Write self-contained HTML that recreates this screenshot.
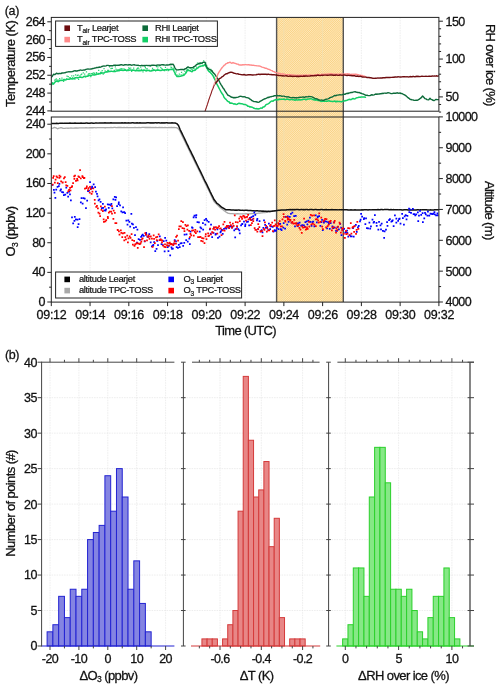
<!DOCTYPE html>
<html lang="en"><head><meta charset="utf-8"><title>Figure</title><style>html,body{margin:0;padding:0;background:#fff}svg{display:block}</style></head><body>
<svg width="500" height="688" viewBox="0 0 500 688" font-family='"Liberation Sans", Arial, Helvetica, sans-serif'>
<defs><pattern id="hatch" width="1.5" height="1.5" patternUnits="userSpaceOnUse" patternTransform="rotate(45)"><rect width="1.5" height="1.5" fill="#fee8bc"/><rect width="0.75" height="1.5" fill="#fad283"/></pattern><clipPath id="c1"><rect x="51.3" y="17.4" width="387.6" height="93.8"/></clipPath><clipPath id="c2"><rect x="51.3" y="117" width="387.6" height="185.1"/></clipPath></defs>
<rect width="500" height="688" fill="#fff"/>
<line x1="90.06" y1="17.4" x2="90.06" y2="111.2" stroke="#e0e0e0" stroke-width="0.6" stroke-dasharray="1.5 1"/>
<line x1="90.06" y1="117" x2="90.06" y2="302.1" stroke="#e0e0e0" stroke-width="0.6" stroke-dasharray="1.5 1"/>
<line x1="128.82" y1="17.4" x2="128.82" y2="111.2" stroke="#e0e0e0" stroke-width="0.6" stroke-dasharray="1.5 1"/>
<line x1="128.82" y1="117" x2="128.82" y2="302.1" stroke="#e0e0e0" stroke-width="0.6" stroke-dasharray="1.5 1"/>
<line x1="167.58" y1="17.4" x2="167.58" y2="111.2" stroke="#e0e0e0" stroke-width="0.6" stroke-dasharray="1.5 1"/>
<line x1="167.58" y1="117" x2="167.58" y2="302.1" stroke="#e0e0e0" stroke-width="0.6" stroke-dasharray="1.5 1"/>
<line x1="206.34" y1="17.4" x2="206.34" y2="111.2" stroke="#e0e0e0" stroke-width="0.6" stroke-dasharray="1.5 1"/>
<line x1="206.34" y1="117" x2="206.34" y2="302.1" stroke="#e0e0e0" stroke-width="0.6" stroke-dasharray="1.5 1"/>
<line x1="245.1" y1="17.4" x2="245.1" y2="111.2" stroke="#e0e0e0" stroke-width="0.6" stroke-dasharray="1.5 1"/>
<line x1="245.1" y1="117" x2="245.1" y2="302.1" stroke="#e0e0e0" stroke-width="0.6" stroke-dasharray="1.5 1"/>
<line x1="283.86" y1="17.4" x2="283.86" y2="111.2" stroke="#e0e0e0" stroke-width="0.6" stroke-dasharray="1.5 1"/>
<line x1="283.86" y1="117" x2="283.86" y2="302.1" stroke="#e0e0e0" stroke-width="0.6" stroke-dasharray="1.5 1"/>
<line x1="322.62" y1="17.4" x2="322.62" y2="111.2" stroke="#e0e0e0" stroke-width="0.6" stroke-dasharray="1.5 1"/>
<line x1="322.62" y1="117" x2="322.62" y2="302.1" stroke="#e0e0e0" stroke-width="0.6" stroke-dasharray="1.5 1"/>
<line x1="361.38" y1="17.4" x2="361.38" y2="111.2" stroke="#e0e0e0" stroke-width="0.6" stroke-dasharray="1.5 1"/>
<line x1="361.38" y1="117" x2="361.38" y2="302.1" stroke="#e0e0e0" stroke-width="0.6" stroke-dasharray="1.5 1"/>
<line x1="400.14" y1="17.4" x2="400.14" y2="111.2" stroke="#e0e0e0" stroke-width="0.6" stroke-dasharray="1.5 1"/>
<line x1="400.14" y1="117" x2="400.14" y2="302.1" stroke="#e0e0e0" stroke-width="0.6" stroke-dasharray="1.5 1"/>
<rect x="276.6" y="17.4" width="66.7" height="284.7" fill="url(#hatch)"/>
<line x1="283.86" y1="17.4" x2="283.86" y2="302.1" stroke="#f3dfb0" stroke-width="0.8" />
<line x1="322.62" y1="17.4" x2="322.62" y2="302.1" stroke="#f3dfb0" stroke-width="0.8" />
<line x1="276.6" y1="17.4" x2="276.6" y2="302.1" stroke="#555" stroke-width="1.4" />
<line x1="343.3" y1="17.4" x2="343.3" y2="302.1" stroke="#555" stroke-width="1.4" />
<g clip-path="url(#c1)">
<path d="M51.72 82.3h1.25v1.25h-1.25zM52.51 83.18h1.25v1.25h-1.25zM54.06 79.53h1.25v1.25h-1.25zM55.09 79.33h1.25v1.25h-1.25zM55.65 78.36h1.25v1.25h-1.25zM56.77 79.56h1.25v1.25h-1.25zM58.18 79.45h1.25v1.25h-1.25zM59.02 77.9h1.25v1.25h-1.25zM60.51 80.1h1.25v1.25h-1.25zM61.32 77.51h1.25v1.25h-1.25zM63 80.78h1.25v1.25h-1.25zM63.33 78.76h1.25v1.25h-1.25zM64.23 78.74h1.25v1.25h-1.25zM66 78.32h1.25v1.25h-1.25zM66.39 75.51h1.25v1.25h-1.25zM67.65 76.07h1.25v1.25h-1.25zM68.9 77.36h1.25v1.25h-1.25zM69.59 76.94h1.25v1.25h-1.25zM71.15 75.32h1.25v1.25h-1.25zM72.11 76.91h1.25v1.25h-1.25zM73.03 75.37h1.25v1.25h-1.25zM74.35 78.52h1.25v1.25h-1.25zM74.93 74.25h1.25v1.25h-1.25zM76.65 74.79h1.25v1.25h-1.25zM77.56 74.47h1.25v1.25h-1.25zM77.97 78.85h1.25v1.25h-1.25zM79.35 75.22h1.25v1.25h-1.25zM80.48 74.12h1.25v1.25h-1.25zM81.06 73.62h1.25v1.25h-1.25zM82.69 72.36h1.25v1.25h-1.25zM84.07 73.43h1.25v1.25h-1.25zM84.83 76.32h1.25v1.25h-1.25zM85.87 71.24h1.25v1.25h-1.25zM87.32 74.53h1.25v1.25h-1.25zM87.88 73.37h1.25v1.25h-1.25zM89.18 72.96h1.25v1.25h-1.25zM90.18 76h1.25v1.25h-1.25zM90.85 72.96h1.25v1.25h-1.25zM92.02 72.69h1.25v1.25h-1.25zM93.16 72.34h1.25v1.25h-1.25zM93.91 72.86h1.25v1.25h-1.25zM95.6 72.48h1.25v1.25h-1.25zM95.98 72.08h1.25v1.25h-1.25zM97.83 73.18h1.25v1.25h-1.25zM98.05 69.84h1.25v1.25h-1.25zM99.96 71.84h1.25v1.25h-1.25zM100.95 71.81h1.25v1.25h-1.25zM101.58 69.96h1.25v1.25h-1.25zM102.58 73.46h1.25v1.25h-1.25zM103.42 67.94h1.25v1.25h-1.25zM104.5 70.33h1.25v1.25h-1.25zM105.89 70.97h1.25v1.25h-1.25zM107.06 69.71h1.25v1.25h-1.25zM107.94 69.79h1.25v1.25h-1.25zM108.94 66.19h1.25v1.25h-1.25zM110.34 67.98h1.25v1.25h-1.25zM111.21 67.75h1.25v1.25h-1.25zM111.79 67.85h1.25v1.25h-1.25zM113.74 69.79h1.25v1.25h-1.25zM114.69 66.13h1.25v1.25h-1.25zM115.32 68.48h1.25v1.25h-1.25zM116.63 69.27h1.25v1.25h-1.25zM117.09 69.72h1.25v1.25h-1.25zM118.25 69.04h1.25v1.25h-1.25zM119.5 68.47h1.25v1.25h-1.25zM120.36 68.33h1.25v1.25h-1.25zM121.36 67.95h1.25v1.25h-1.25zM123.24 68.34h1.25v1.25h-1.25zM124.03 68.72h1.25v1.25h-1.25zM124.8 68.92h1.25v1.25h-1.25zM125.88 70.04h1.25v1.25h-1.25zM127.6 69.9h1.25v1.25h-1.25zM128.1 67.21h1.25v1.25h-1.25zM128.78 67.87h1.25v1.25h-1.25zM130.09 67.56h1.25v1.25h-1.25zM130.96 70.68h1.25v1.25h-1.25zM131.87 69.68h1.25v1.25h-1.25zM133.06 67.44h1.25v1.25h-1.25zM134.54 69.9h1.25v1.25h-1.25zM136.06 68.49h1.25v1.25h-1.25zM136.99 67.85h1.25v1.25h-1.25zM137.53 67.16h1.25v1.25h-1.25zM138.38 68.57h1.25v1.25h-1.25zM140.08 66.56h1.25v1.25h-1.25zM140.67 68.86h1.25v1.25h-1.25zM142.42 71.14h1.25v1.25h-1.25zM143.34 69.41h1.25v1.25h-1.25zM144.28 65.87h1.25v1.25h-1.25zM144.79 67.09h1.25v1.25h-1.25zM145.64 68.34h1.25v1.25h-1.25zM146.7 68.31h1.25v1.25h-1.25zM148.46 69.7h1.25v1.25h-1.25zM149.8 65.21h1.25v1.25h-1.25zM150.89 69.63h1.25v1.25h-1.25zM151.92 67.72h1.25v1.25h-1.25zM152.2 69.2h1.25v1.25h-1.25zM153.23 68.94h1.25v1.25h-1.25zM155.03 70.25h1.25v1.25h-1.25zM156.03 66.01h1.25v1.25h-1.25zM157.05 68.4h1.25v1.25h-1.25zM157.35 66.34h1.25v1.25h-1.25zM159.14 65.2h1.25v1.25h-1.25zM160.17 67h1.25v1.25h-1.25zM161.27 67.99h1.25v1.25h-1.25zM161.84 69.08h1.25v1.25h-1.25zM162.97 64.31h1.25v1.25h-1.25zM164.04 69.97h1.25v1.25h-1.25zM164.85 66.86h1.25v1.25h-1.25zM165.86 69.48h1.25v1.25h-1.25zM167.64 70.12h1.25v1.25h-1.25zM168 69.4h1.25v1.25h-1.25zM169.6 63.91h1.25v1.25h-1.25zM170.33 66.55h1.25v1.25h-1.25zM171.04 67.02h1.25v1.25h-1.25zM173.11 67.6h1.25v1.25h-1.25zM174.13 69.29h1.25v1.25h-1.25zM174.66 73.71h1.25v1.25h-1.25zM175.48 71.19h1.25v1.25h-1.25zM176.58 74.44h1.25v1.25h-1.25zM178 75.52h1.25v1.25h-1.25zM178.71 73.61h1.25v1.25h-1.25zM180.46 74.18h1.25v1.25h-1.25zM180.93 71.72h1.25v1.25h-1.25zM182.57 73.57h1.25v1.25h-1.25zM183.11 74.41h1.25v1.25h-1.25zM184.29 70.75h1.25v1.25h-1.25zM185.34 71.92h1.25v1.25h-1.25zM186.04 69.63h1.25v1.25h-1.25zM186.91 68.64h1.25v1.25h-1.25zM188.46 67.33h1.25v1.25h-1.25zM189.79 67.49h1.25v1.25h-1.25zM190.63 68.61h1.25v1.25h-1.25zM191.73 69.29h1.25v1.25h-1.25zM192.79 67.74h1.25v1.25h-1.25zM193.52 67.51h1.25v1.25h-1.25zM194.85 69.6h1.25v1.25h-1.25zM195.97 66.52h1.25v1.25h-1.25zM196.9 62.39h1.25v1.25h-1.25zM198.14 63.2h1.25v1.25h-1.25zM199.28 64.36h1.25v1.25h-1.25zM200.09 62.34h1.25v1.25h-1.25zM201.67 62.9h1.25v1.25h-1.25zM202.47 65.49h1.25v1.25h-1.25zM203.06 60.19h1.25v1.25h-1.25zM204.44 64.98h1.25v1.25h-1.25zM205.05 62.34h1.25v1.25h-1.25zM206.09 64.66h1.25v1.25h-1.25zM207.28 67.79h1.25v1.25h-1.25zM208.16 67.44h1.25v1.25h-1.25zM210.09 68.74h1.25v1.25h-1.25zM210.36 70.89h1.25v1.25h-1.25zM211.41 70.46h1.25v1.25h-1.25zM213.25 76.56h1.25v1.25h-1.25z" fill="#2fd475"/>
<polyline points="51.5,85.01 52.5,82.91 53.5,83.99 55,82.04 56,81.3 57,81.1 58,81.74 59,81.21 60,80.46 61,80.21 62,80.2 63,80.44 64,79.69 65,80.05 66,79.75 67,79.17 68,79.25 69,79.31 70,79.01 71,78.45 72,79.12 73,78.78 74,78.78 75,77.84 76,77.83 77,77.47 78,77.97 79,77.35 80,77.07 81,77.15 82,77.41 83,77.15 84,76.46 85,76.18 86,76.7 87,76.2 88,76.14 89,75.41 90,75.2 91,75.57 92,75.13 93,74.62 94,75.19 95,74.72 96,74.67 97,73.83 98,74.32 99,73.41 100,73.93 101,73.33 102,73 103,72.96 104,73.07 105,72.25 106,71.89 107,72.02 108,71.69 109,71.5 110,71.47 111,71.3 112,71.36 113,71.38 114,71.3 115,71.63 116,71.07 117,71.11 118,70.68 119,70.69 120,70.25 121,70.32 122,69.96 123,70.56 124,70.35 125,69.97 126,70.18 127,70.54 128,69.75 129,70.34 130,69.94 131,70.06 132,70.42 133,70.08 134,70.25 135,70.47 136,70.79 137,70.28 138,70.78 139,70.73 140,70.72 141,70.53 142,70.5 143,70.26 144,70.35 145,70.31 146,70.94 147,70.52 148,70.46 149,70.41 150,71.11 151,71.07 152,70.83 153,70.42 154,70.33 155,70.31 156,70.4 157,70.07 158,70.27 159,70.05 160,70.62 161,70.57 162,70.12 163,69.79 164,70.38 165,69.73 166,69.71 167,69.33 168,69.61 169,69.64 170,69.6 171,69.26 172,69.47 173,68.95 174,71.24 175,73.13 176,75.16 177,76.59 178,76.37 179,76.42 180,76.16 181,76.13 182,75.73 183,75.58 184,75.14 185,73.94 186,72.84 187,71.15 188,69.84 189,70.84 190,70.48 191,71.4 192,71.73 193,70.52 194,70.57 195,69.95 196,69.05 197,68.48 198,67.88 199,66.78 200,66.62 201,66.1 202,65.9 203,65.47 204,65.09 205,64.48 206.5,67.35 208,70.16 209.25,71.67 210.5,72.76 211.75,74.08 213,75.67 214.25,78.37 215.5,80.64 216.75,83.8 218,86.05 219,88.05 220,89.98 221,91.96 222,93.52 223,94.82 224,97.27 225,98.42 226,99.4 227,100.63 228,101.54 229,101.81 230,103.21 231,103.04 232,103.15 233,103.59 234,104.14 235,103.8 236,104.42 237,104.36 238,103.66 239,103.29 240,103.45 241,103.7 242,103.84 243,104.11 244,104.53 245,104.42 246,104.88 247,105.43 248,106.32 249,106.37 250,107.06 251,106.86 252,107.2 253,107.69 254,108.35 255,108.57 256,108.76 257,108.61 258,109.01 259,108.72 260,108.47 261,107.91 262,108.35 263,107 264,106.96 265,106.19 266,104.63 267,104.3 268,103.89 269,103.35 270,102.22 271,101.39 272,100.94 273,101.2 274,100.14 275,100.07 276,99.5 277,99.67 278,99.88 279,98.97 280,99.49 281,99.11 282,99.35 283,99.28 284,98.96 285,99.66 286,99.39 287,99.07 288,99.15 289,99.65 290,99.67 291,99.59 292,99.51 293,99.75 294,99.78 295,100.31 296,99.48 297,100.08 298,100.09 299,99.37 300,100.03 301,99.76 302,99.86 303,99.25 304,99.26 305,99.22 306,99.7 307,99.27 308,99 309,99 310,98.8 311,98.75 312,98.96 313,99.78 314,99.45 315,100.19 316,99.81 317,100.07 318,100.53 319,100.48 320,100.89 321,101.39 322,101.31 323,101.22 324,101.04 325,101.27 326,101.34 327,101.02 328,101.22 329,100.65 330,101.31 331,101.14 332,101.49 333,101.47 334,101.23 335,101.09 336,101.9 337,101.2 338,101.53 339,101.44 340,101.42 341,101.67 342,101.73 343,100.93 344,101.14 345,100.62 346,100.65 347,100.3 348,99.83 349,99.56 350,99.34 351,99.67 352,99 353,98.45 354,98.89 355,98.8 356,98.13 357,97.68 358,97.56 359,97.3 360,97.36 361,97 362,97 363,96.88 364.25,97.01 365.5,97.15" fill="none" stroke="#13cf66" stroke-width="1.5" stroke-linejoin="round" stroke-linecap="round"/>
<polyline points="51.5,77.15 52.5,75.95 53.5,74.25 55,74.61 56.5,73.13 58,73.9 59,73.49 60,73.37 61,73.6 62,72.92 63,72.96 64,72.86 65,72.82 66,72.25 67,72.1 68,71.91 69,71.82 70,71.67 71,71.84 72,71.64 73,71.52 74,70.87 75,70.74 76,71.02 77,70.99 78,70.6 79,70.54 80,70.05 81,70.15 82,70.34 83,70.14 84,70.02 85,69.96 86,69.39 87,69.17 88,69.06 89,69.15 90,69.11 91,69.06 92,68.73 93,68.49 94,68.36 95,67.97 96,67.83 97,67.32 98,67.57 99,67.04 100,67.25 101,66.89 102,66.48 103,66.18 104,66.05 105,66.08 106,65.92 107,65.37 108,65.38 109,65.69 110,65.77 111,65.69 112,65.63 113,65.73 114,65.24 115,65.28 116,65.24 117,65.41 118,65.09 119,65.21 120,64.95 121,64.79 122,64.78 123,65.19 124,65.02 125,64.77 126,64.58 127,64.85 128,64.94 129,64.77 130,64.65 131,64.97 132,65.2 133,64.85 134,64.8 135,65.05 136,65.17 137,65.4 138,65.18 139,65.61 140,65.64 141,65.5 142,65.32 143,65.78 144,65.39 145,65.69 146,65.34 147,65.33 148,65.66 149,65.38 150,65.77 151,65.46 152,65.23 153,65.21 154,65.29 155,65.4 156,65.53 157,65.01 158,65.12 159,64.97 160,65.38 161,64.84 162,64.73 163,64.69 164,64.84 165,65.09 166,65.03 167,64.89 168,65 169,64.91 170,64.5 171,64.21 172,64.46 173,64.15 174,65.72 175,68.1 176.5,69.93 177.57,69.85 178.64,69.76 179.71,69.59 180.79,69.42 181.86,69.51 182.93,69.48 184,69.77 185,68.77 186,68.78 187,67.57 188,66.91 189,67.39 190,67.59 191,67.66 192,67.73 193,67.32 194,66.59 195,66.25 196,65.08 197,64.45 198,64.04 199,63.27 200,63.25 201,63.24 202,62.96 203,62.39 204,62.25 205,62.14 206,65.25 207.5,68.35 208.75,69.15 210,69.74 211,70.15 212,70.86 213,72.52 214,73.57 215,74.61 216,76.13 217,77.56 218,79.2 219,80.7 220,82.82 221,84.58 222,86.08 223,87.93 224,89.05 225,90.84 226,92.32 227,93.94 228,95.27 229,95.6 230,96.18 231,96.96 232,97.23 233,97.72 234,97.51 235,97.71 236,97.51 237,97.39 238,97.1 239,96.73 240,96.3 241,96.41 242,96.56 243,96.93 244,96.63 245,96.82 246,97.53 247,97.6 248,97.86 249,98.22 250,99.16 251,99.66 252,100.69 253,101.1 254,101.63 255,101.66 256,101.75 257,101.96 258,102.4 259,102.06 260,101.43 261,100.84 262,100.28 263,99.74 264,99.1 265,98.75 266,98.41 267,97.9 268,97.31 269,97.47 270,96.88 271,96.79 272,96.42 273,96.39 274,95.82 275,95.72 276,95.58 277,95.39 278,95.91 279,95.8 280,95.72 281,95.84 282,96.32 283,96.15 284,96.11 285,96.59 286,96.67 287,97.05 288,96.7 289,97.1 290,97.49 291,97.64 292,97.83 293,97.44 294,97.74 295,97.77 296,97.65 297,97.96 298,97.57 299,97.62 300,97.12 301,97.38 302,97.09 303,96.94 304,97.21 305,97.27 306,96.66 307,96.86 308,96.77 309,96.43 310,96.65 311,96.65 312,96.82 313,97.3 314,97.96 315,98.44 316,98.62 317,98.88 318,99.45 319,100.03 320,100.11 321,100.16 322,100.07 323,100.4 324,100.23 325,99.6 326,99.29 327,99.14 328,98.81 329,98.43 330,97.68 331,97.3 332,97.14 333,96.5 334,95.94 335,95.48 336,95.71 337,95.17 338,95.16 339,94.87 340,94.75 341,94.92 342,94.9 343,94.42 344,94.22 345,94.27 346,93.69 347,93.3 348,93.54 349,92.95 350,92.89 351,92.44 352,92.53 353,92.08 354,91.86 355,91.74 356,92.03 357,92.28 358,92.65 359,92.35 360,93.04 361,93.26 362,93.7 363,93.85 364,94.3 365,94.81 366,95.32 367,95.1 368,95.59 369,95.65 370,95.61 371,95.02 372,94.78 373,95.07 374,94.89 375,94.39 376,93.99 377,94.38 378,93.91 379,94.08 380,93.77 381,93.79 382,93.3 383,93.57 384,93.13 385,93.14 386,93.27 387,93.13 388,92.61 389,92.86 390,93.19 391,93.49 392,93.63 393,93.3 394,93.2 395,93.31 396,93.24 397,92.77 398,93.14 399,93.3 400,92.92 401,93.67 402,93.5 403,94.06 404,94.58 405,95.18 406,95.82 407,96.72 408,97.65 409,98.36 410,99.3 411,99.5 412,99.83 413,99.91 414,100.34 415,100.33 416,100.24 417,100.26 418,99.97 419,99.47 420,98.56 421,97.98 422.6,96.06 424,97.58 425,98.66 426,98.91 427,99.57 428.5,99.91 430,98.32 431,99.33 432,99.65 433,100.29 434,100.57 435,100.01 436,99.33 437.45,99.65 438.9,99.63" fill="none" stroke="#0d6b3a" stroke-width="1.4" stroke-linejoin="round" stroke-linecap="round"/>
<polyline points="205,111.77 206.25,107.28 207.5,103.71 208.75,100.05 210,96.14 211,93.19 212,89.82 213,87.29 214,84 215,81.77 216,79.25" fill="none" stroke="#ff8a8a" stroke-width="0.9" stroke-linejoin="round" stroke-linecap="round"/>
<polyline points="205,111.3 206.25,107.92 207.5,104.26 208.75,100.04 210,96.51 211,93.95 212,90.8 213,88.74 214,85.86 215,84.59 216,82.59" fill="none" stroke="#6e0d10" stroke-width="0.9" stroke-linejoin="round" stroke-linecap="round"/>
<polyline points="216,79 217,76.71 218,73.85 219,72.18 220,70.6 221,69.21 222,67.77 223,66.64 224,65.43 225,64.82 226,63.69 227,63.4 228,62.63 229,62.74 230,62.21 231,62.82 232,63.27 233,62.53 234,63.12 235,63.29 236,63.64 237,64.14 238,64.1 239,64.9 240,65.06 241,64.87 242,64.99 243,64.64 244,64.93 245,64.64 246,64.61 247,64.89 248,64.81 249,64.76 250,65.12 251,64.85 252,65.32 253,65.12 254,65.39 255,65.64 256,65.64 257,65.88 258,65.91 259,65.95 260,66.17 261,66.54 262,67.1 263,67.33 264,67.69 265,68.2 266,68.22 267,68.66 268,69.28 269,69.36 270,69.75 271,70.38 272,70.7 273,71.28 274,71.66 275,72.24 276,72.64 277,72.85 278,73.29 279,73.44 280,73.49 281,74.12 282,73.9 283,73.97 284,74.07 285,74.47 286,74.67 287,74.71 288,74.61 289,74.62 290,74.58 291,74.99 292,75.03 293,74.98 294,75.17 295,75.12 296,75.42 297,75.37 298,75.17 299,75.55 300,75.17 301,75.39 302,75.3 303,75.19 304,75.08 305,75.41 306,75.01 307,75.25 308,75.42 309,74.99 310,74.99 311,75.17 312,75.09 313,75.13 314,75.19 315,74.84 316,74.82 317,74.73 318,74.52 319,74.85 320,74.71 321,74.59 322,74.15 323,74.52 324,74.42 325,74.23 326,74.32 327,74.13 328,73.96 329,73.85 330,73.87 331,73.8 332,73.97 333,74.21 334,74.21 335,74.32 336,74.28 337,74.08 338,74.2 339,74.11 340,74.26 341,74.1 342,73.94 343,74.1 344,74.23 345,73.88 346,74.22 347,73.81 348,73.95 349,73.95 350,74.22 351,74.37 352,74.32 353,74.16 354,74.49 355,74.26 356,74.27 357,74.65 358,74.57 359,74.85 360,75.08 361,75.49 362,75.48 363.17,75.97 364.33,76.2 365.5,76.58" fill="none" stroke="#ff8a8a" stroke-width="1.4" stroke-linejoin="round" stroke-linecap="round"/>
<polyline points="216,82.77 217,81.51 218,80.04 219,79.1 220,78.26 221,77.76 222,76.79 223,76.41 224,75.22 225,74.46 226,73.8 227.25,73.71 228.5,72.92 229.75,72.52 231,72.16 232.25,72.42 233.5,73 234.75,73.32 236,73.7 237,73.92 238,73.78 239,74.25 240,74.33 241,74.64 242,74.72 243,74.84 244,74.5 245,74.98 246,75.05 247,75.1 248,74.72 249,74.81 250,74.81 251,74.71 252,75.05 253,74.98 254,74.83 255,74.86 256,74.71 257,74.47 258,74.32 259,74.26 260,74.53 261,74.23 262,74.27 263,74.3 264,74.08 265,74.18 266,74.21 267,74.45 268,74.29 269,74.29 270,74.63 271,74.5 272,74.78 273,74.76 274,74.57 275,74.89 276,75.03 277,75.34 278,75.25 279,75.55 280,75.59 281,75.56 282,75.96 283,75.65 284,76.08 285,75.84 286,75.79 287,75.94 288,76.26 289,76.41 290,75.97 291,76.25 292,76.3 293,76.46 294,76.17 295,76.33 296,76.27 297,76.53 298,76.26 299,76.61 300,76.29 301,76.21 302,76.4 303,76.25 304,76 305,76.22 306,75.89 307,76.19 308,76.1 309,76.09 310,75.95 311,75.76 312,75.72 313,75.66 314,75.85 315,75.39 316,75.75 317,75.28 318,75.32 319,75.31 320,75.59 321,75.34 322,75.24 323,75.45 324,75.09 325,75.17 326,75.17 327,75.24 328,75.2 329,75.11 330,74.92 331,74.94 332,74.88 333,75.26 334,75.2 335,75.26 336,75.01 337,75.17 338,75.34 339,75.24 340,75.01 341,75.18 342,75.39 343,75.07 344,75.05 345,75.16 346,75.43 347,75.56 348,75.28 349,75.34 350,75.45 351,75.55 352,75.71 353,75.62 354,75.79 355,75.81 356,76.29 357,76.25 358,76.03 359,76.54 360,76.2 361,76.48 362,76.93 363,76.98 364,77.09 365,77.08 366,77.11 367,77.47 368,77.34 369,77.53 370,77.76 371,77.73 372,78.05 373,78.31 374,78.33 375,78.3 376,78.31 377,78.16 378,77.94 379,78.11 380,77.95 381,78.04 382,78.04 383,77.73 384,77.72 385,77.72 386,77.5 387,77.35 388,77.54 389,77.56 390,77.45 391,77.36 392,77.38 393,77.25 394,77.2 395,77.06 396,76.96 397,77.08 398,76.77 399,76.9 400,77.04 401,76.99 402,76.92 403,76.72 404,76.78 405,76.78 406,76.84 407,76.71 408,76.83 409,76.94 410,76.54 411,76.75 412,76.78 413,76.55 414,76.57 415,76.79 416,76.29 417,76.51 418,76.29 419,76.57 420,76.62 421,76.39 422,76.16 423,76.38 424,76.34 425,76.41 426,76.29 427,76.33 428,76.4 429,76.23 430,76.16 431.11,76.39 432.23,75.98 433.34,76.18 434.45,76 435.56,76.14 436.67,75.79 437.79,76.18 438.9,75.83" fill="none" stroke="#6e0d10" stroke-width="1.4" stroke-linejoin="round" stroke-linecap="round"/>
</g>
<g clip-path="url(#c2)">
<polyline points="51.3,128.29 53,128.15 54.5,127.38 56,127.88 57.5,128.78 59,128.18 60,127.95 61,127.56 62,127.94 63,128.33 64,128.39 65,128.37 66,128.21 67,128.11 68,128.23 69,128.11 70,128.05 71,128 72,128.14 73,128.12 74,128.06 75,128 76,128 77,127.9 78,128.05 79,127.89 80,127.93 81,127.97 82,127.96 83,127.86 84,127.81 85,127.86 86,127.75 87,127.91 88,127.79 89,127.89 90,127.74 91,127.76 92,127.72 93,127.75 94,127.68 95,127.63 96,127.79 97,127.68 98,127.66 99,127.66 100,127.7 101,127.67 102,127.71 103,127.71 104,127.63 105,127.75 106,127.73 107,127.52 108,127.7 109,127.71 110,127.67 111,127.51 112,127.67 113,127.62 114,127.47 115,127.47 116,127.69 117,127.62 118,127.52 119,127.48 120,127.49 121,127.51 122,127.64 123,127.53 124,127.48 125,127.66 126,127.63 127,127.48 128,127.65 129,127.58 130,127.62 131,127.59 132,127.64 133,127.61 134,127.62 135,127.46 136,127.58 137,127.54 138,127.59 139,127.51 140,127.62 141,127.54 142,127.46 143,127.45 144,127.43 145,127.51 146,127.4 147,127.5 148,127.42 149,127.5 150,127.5 151,127.51 152,127.59 153,127.38 154,127.58 155,127.49 156,127.52 157,127.54 158,127.58 159,127.47 160,127.48 161,127.61 162,127.4 163,127.53 164,127.53 165,127.39 166,127.53 167,127.54 168,127.6 169,127.46 170,127.62 171,127.5 172,127.5 173,127.6 174,127.39 175,127.55 176,127.53 177,127.91 178,128.49 179.5,130.37 181,133.59 182,135.66 183,137.77 184,139.69 185,141.8 186,143.85 187,145.94 188,148.06 189,149.99 190,152.17 191,154.12 192,156.2 193,158.2 194,160.31 195,162.48 196,164.46 197,166.54 198,168.49 199,170.54 200,172.59 201,174.71 202,176.78 203,178.87 204,180.74 205,182.96 206,185.06 207,187.03 208,188.96 209,191.08 210,193.06 211,195.16 212,197.39 213,199.37 214,201.44 215,202.54 216,203.63 217,204.63 218,205.56 219,206.5 220,207.45 221,208.22 222,209.04 223,209.73 224,210.64 225,211.29 226,212.06 227,212.6 228,213.32 229,213.34 230,213.57 231,213.65 232,213.64 233,213.62 234,213.78 235,213.82 236,213.81 237,213.75 238,213.77 239,213.81 240,213.8 241,213.84 242,213.9 243,213.98 244,213.78 245,213.92 246,213.75 247,213.73 248,213.85 249,213.76 250,213.8 251,213.65 252,213.5 253,213.55 254,213.56 255,213.61 256,213.53 257,213.32 258,213.22 259,213.06 260,213.11 261,212.92 262,212.82 263,212.67 264,212.55 265,212.59 266,212.34 267,212.43 268,212.1 269,212.09 270,211.71 271,211.48 272,211.45 273,211.14 274,211.06 275,210.81 276,210.66 277,210.72 278,210.58 279,210.5 280,210.36" fill="none" stroke="#a9a9a9" stroke-width="1.3" stroke-linejoin="round" stroke-linecap="round"/>
<polyline points="51.3,123.38 52.39,123.51 53.47,123.51 54.56,123.41 55.65,123.53 56.74,123.3 57.83,123.49 58.91,123.39 60,123.15 61,123.15 62,123.33 63,123.37 64,123.14 65,123.21 66,123.32 67,123.15 68,123.35 69,123.23 70,123.09 71,123.18 72,123.23 73,123.18 74,123.25 75,123.08 76,123.27 77,123.13 78,123.21 79,123.2 80,123.13 81,123.11 82,123.22 83,123.26 84,123.21 85,123.13 86,123.04 87,122.97 88,123.23 89,123.14 90,123.17 91,123.02 92,123.09 93,123.2 94,123.14 95,123.07 96,122.97 97,123 98,123.13 99,122.97 100,123.06 101,123.03 102,123.11 103,123.09 104,122.93 105,122.84 106,122.92 107,122.96 108,123.01 109,123.08 110,123.1 111,122.84 112,123.08 113,123.07 114,123.08 115,122.99 116,122.9 117,123.07 118,123.06 119,123.02 120,123.08 121,122.91 122,122.83 123,122.97 124,123.04 125,122.86 126,123.02 127,123.08 128,122.86 129,122.97 130,122.99 131,122.93 132,122.85 133,122.86 134,123.01 135,123.02 136,122.92 137,122.8 138,123.02 139,123 140,122.84 141,122.94 142,123.04 143,123.03 144,122.92 145,122.9 146,122.93 147,122.81 148,122.81 149,122.81 150,122.96 151,122.86 152,122.92 153,122.87 154,122.91 155,122.79 156,122.76 157,123.05 158,122.86 159,122.78 160,122.94 161,122.99 162,122.8 163,122.93 164,122.85 165,122.91 166,122.76 167,122.76 168,123.05 169,123.01 170,122.9 171,122.92 172,122.83 173,122.98 174,122.88 175,123.03 176,123.33 177,123.7 178.5,125.54 180,129.33 181,131.32 182,133.43 183,135.49 184,137.52 185,139.57 186,141.79 187,143.94 188,145.88 189,148.09 190,150.14 191,151.95 192,154.17 193,156.17 194,158.15 195,160.46 196,162.32 197,164.47 198,166.55 199,168.71 200,170.69 201,172.66 202,174.74 203,176.72 204,179.02 205,181.09 206,182.92 207,184.93 208,187.06 209,189.15 210,191.37 211,193.44 212,195.48 213,197.3 214,199.59 215,200.83 216,202.08 217,203.45 218.12,204.09 219.25,205.04 220.38,206.15 221.5,207.13 222.62,207.75 223.75,208.34 224.88,209.13 226,209.88 227,209.71 228,209.81 229,209.83 230,209.82 231,209.96 232,209.9 233,209.95 234,209.96 235,210.15 236,209.97 237,210.21 238,210.07 239,210.04 240,210.33 241,210.14 242,210.37 243,210.37 244,210.4 245,210.19 246,210.34 247,210.29 248,210.59 249,210.62 250,210.61 251,210.61 252,210.63 253,210.83 254,210.78 255,210.88 256,210.79 257,210.86 258,210.87 259,211.1 260,211.08 261,210.99 262,211.24 263,211.1 264,211.17 265,211.13 266,211.2 267,211.4 268,211.28 269,211.27 270,211.4 271,211.23 272,211.28 273,210.92 274,211.06 275,210.67 276,210.8 277,210.61 278,210.35 279,210.31 280,210.14 281,210.07 282,209.99 283,209.98 284,210.11 285,210.05 286,209.97 287,209.66 288,209.66 289,209.78 290,209.47 291,209.67 292,209.54 293,209.75 294,209.46 295,209.7 296,209.57 297,209.51 298,209.47 299,209.72 300,209.63 301,209.53 302,209.61 303,209.76 304,209.55 305,209.66 306,209.53 307,209.55 308,209.73 309,209.71 310,209.56 311,209.53 312,209.53 313,209.69 314,209.66 315,209.59 316,209.58 317,209.7 318,209.73 319,209.77 320,209.7 321,209.59 322,209.55 323,209.75 324,209.66 325,209.75 326,209.56 327,209.79 328,209.65 329,209.8 330,209.81 331,209.71 332,209.57 333,209.85 334,209.73 335,209.86 336,209.69 337,209.68 338,209.88 339,209.75 340,209.7 341,209.77 342,209.85 343,209.68 344,209.85 345,209.83 346,209.86 347,209.76 348,209.94 349,209.98 350,210.01 351,209.86 352,209.98 353,209.89 354,210.02 355,209.82 356,210.07 357,210.11 358,209.98 359,209.99 360,210.01 361,210 362,209.82 363,210.09 364,209.85 365,209.82 366,209.78 367,209.81 368,209.97 369,209.72 370,209.72 371,209.88 372,209.72 373,209.65 374,209.81 375,209.78 376,209.75 377,209.79 378,209.59 379,209.81 380,209.75 381,209.53 382,209.53 383,209.63 384,209.62 385,209.53 386,209.5 387,209.6 388,209.53 389,209.68 390,209.77 391,209.57 392,209.71 393,209.77 394,209.61 395,209.82 396,209.86 397,209.71 398,209.73 399,209.87 400,209.79 401,209.76 402,209.94 403,209.9 404,209.78 405,209.76 406,209.8 407,209.84 408,210.02 409,209.98 410,210.02 411.03,209.99 412.06,210 413.1,209.76 414.13,209.89 415.16,210.02 416.19,210.01 417.23,209.8 418.26,209.85 419.29,209.91 420.32,209.82 421.35,209.87 422.39,209.73 423.42,209.83 424.45,209.85 425.48,209.7 426.51,209.73 427.55,209.98 428.58,209.92 429.61,209.96 430.64,209.87 431.67,209.92 432.71,209.94 433.74,209.93 434.77,209.67 435.8,209.85 436.84,209.74 437.87,209.86 438.9,209.73" fill="none" stroke="#111" stroke-width="1.5" stroke-linejoin="round" stroke-linecap="round"/>
<path d="M51.66 184.11h1.75v1.75h-1.75zM53.01 189.01h1.75v1.75h-1.75zM53.6 191.83h1.75v1.75h-1.75zM54.49 196.91h1.75v1.75h-1.75zM55.35 188.72h1.75v1.75h-1.75zM56.67 186h1.75v1.75h-1.75zM57.95 185.33h1.75v1.75h-1.75zM58.5 182.96h1.75v1.75h-1.75zM59.5 189.71h1.75v1.75h-1.75zM60.1 188.59h1.75v1.75h-1.75zM61.22 191.26h1.75v1.75h-1.75zM62.31 191.43h1.75v1.75h-1.75zM62.98 194.32h1.75v1.75h-1.75zM64.41 193.78h1.75v1.75h-1.75zM65.42 186.75h1.75v1.75h-1.75zM66.48 192.05h1.75v1.75h-1.75zM67.27 195.82h1.75v1.75h-1.75zM68.34 190.78h1.75v1.75h-1.75zM69.09 193.45h1.75v1.75h-1.75zM70 199.5h1.75v1.75h-1.75zM71.12 216.52h1.75v1.75h-1.75zM72.3 222.56h1.75v1.75h-1.75zM73.55 219.88h1.75v1.75h-1.75zM73.92 215.92h1.75v1.75h-1.75zM74.95 218.59h1.75v1.75h-1.75zM76.62 218.76h1.75v1.75h-1.75zM76.79 226.28h1.75v1.75h-1.75zM77.68 223.34h1.75v1.75h-1.75zM78.65 218.27h1.75v1.75h-1.75zM79.95 201.46h1.75v1.75h-1.75zM80.66 197.29h1.75v1.75h-1.75zM81.76 202.68h1.75v1.75h-1.75zM82.67 197.31h1.75v1.75h-1.75zM83.83 197.67h1.75v1.75h-1.75zM85.08 207.25h1.75v1.75h-1.75zM86.29 199.7h1.75v1.75h-1.75zM87.16 190.14h1.75v1.75h-1.75zM88.15 189.76h1.75v1.75h-1.75zM89.17 181.2h1.75v1.75h-1.75zM90.08 187.46h1.75v1.75h-1.75zM91.22 185.87h1.75v1.75h-1.75zM91.35 187.36h1.75v1.75h-1.75zM92.81 183.45h1.75v1.75h-1.75zM94.25 186.27h1.75v1.75h-1.75zM95.06 190.64h1.75v1.75h-1.75zM96.12 193.12h1.75v1.75h-1.75zM96.69 195.55h1.75v1.75h-1.75zM97.68 199.52h1.75v1.75h-1.75zM98.59 198.6h1.75v1.75h-1.75zM99.74 201h1.75v1.75h-1.75zM100.95 207.29h1.75v1.75h-1.75zM101.99 203.11h1.75v1.75h-1.75zM102.32 207.05h1.75v1.75h-1.75zM103.41 209.38h1.75v1.75h-1.75zM104.67 209.66h1.75v1.75h-1.75zM105.16 208.54h1.75v1.75h-1.75zM106.89 203.6h1.75v1.75h-1.75zM107.86 206.95h1.75v1.75h-1.75zM108.44 203.81h1.75v1.75h-1.75zM109.9 204.57h1.75v1.75h-1.75zM110.54 203.02h1.75v1.75h-1.75zM111.45 207.48h1.75v1.75h-1.75zM112.47 198.44h1.75v1.75h-1.75zM113.91 195.94h1.75v1.75h-1.75zM114.58 199.12h1.75v1.75h-1.75zM115.27 196.5h1.75v1.75h-1.75zM116.21 205.24h1.75v1.75h-1.75zM117.78 203.19h1.75v1.75h-1.75zM117.93 201.61h1.75v1.75h-1.75zM119.18 204.46h1.75v1.75h-1.75zM120.36 210.44h1.75v1.75h-1.75zM121.64 211.44h1.75v1.75h-1.75zM122.19 206.46h1.75v1.75h-1.75zM123.35 211.37h1.75v1.75h-1.75zM124.24 212.23h1.75v1.75h-1.75zM125.5 219.66h1.75v1.75h-1.75zM126.64 223.82h1.75v1.75h-1.75zM127.47 219.44h1.75v1.75h-1.75zM128.52 220.99h1.75v1.75h-1.75zM129.3 225.69h1.75v1.75h-1.75zM130.47 213.07h1.75v1.75h-1.75zM131 222.73h1.75v1.75h-1.75zM132.07 223.53h1.75v1.75h-1.75zM133.04 227h1.75v1.75h-1.75zM134.14 234.2h1.75v1.75h-1.75zM135.1 226.17h1.75v1.75h-1.75zM136.11 241.76h1.75v1.75h-1.75zM136.51 228.8h1.75v1.75h-1.75zM137.75 238.28h1.75v1.75h-1.75zM139.11 239.09h1.75v1.75h-1.75zM140.24 236.04h1.75v1.75h-1.75zM140.97 234.72h1.75v1.75h-1.75zM141.86 233.72h1.75v1.75h-1.75zM142.9 235.08h1.75v1.75h-1.75zM143.86 240.47h1.75v1.75h-1.75zM145.29 232.03h1.75v1.75h-1.75zM145.42 233.6h1.75v1.75h-1.75zM146.43 235.84h1.75v1.75h-1.75zM147.36 235.93h1.75v1.75h-1.75zM148.41 233.24h1.75v1.75h-1.75zM149.82 241.6h1.75v1.75h-1.75zM150.99 245.38h1.75v1.75h-1.75zM151.94 245.06h1.75v1.75h-1.75zM152.48 243.97h1.75v1.75h-1.75zM153.31 241.2h1.75v1.75h-1.75zM154.39 250.18h1.75v1.75h-1.75zM155.68 248.04h1.75v1.75h-1.75zM156.43 240.07h1.75v1.75h-1.75zM157.12 244.2h1.75v1.75h-1.75zM158.92 235.43h1.75v1.75h-1.75zM159.46 238.72h1.75v1.75h-1.75zM160.62 243.13h1.75v1.75h-1.75zM161.91 244.17h1.75v1.75h-1.75zM162.81 240.16h1.75v1.75h-1.75zM163.76 250.53h1.75v1.75h-1.75zM164.23 236.95h1.75v1.75h-1.75zM165.4 239.69h1.75v1.75h-1.75zM166.83 246.37h1.75v1.75h-1.75zM167.58 250.32h1.75v1.75h-1.75zM168.08 244.66h1.75v1.75h-1.75zM169.32 254.56h1.75v1.75h-1.75zM170.6 246.49h1.75v1.75h-1.75zM171.15 247.92h1.75v1.75h-1.75zM171.97 247.66h1.75v1.75h-1.75zM173.32 242.72h1.75v1.75h-1.75zM173.86 239.23h1.75v1.75h-1.75zM175.12 240.4h1.75v1.75h-1.75zM175.77 246.23h1.75v1.75h-1.75zM177.03 246.97h1.75v1.75h-1.75zM177.91 244.01h1.75v1.75h-1.75zM178.88 246.3h1.75v1.75h-1.75zM179.67 242.51h1.75v1.75h-1.75zM180.77 242.14h1.75v1.75h-1.75zM182.29 245.12h1.75v1.75h-1.75zM183.39 242.11h1.75v1.75h-1.75zM183.68 233.77h1.75v1.75h-1.75zM185.33 239.35h1.75v1.75h-1.75zM185.67 233.47h1.75v1.75h-1.75zM186.87 240.73h1.75v1.75h-1.75zM188.42 237.72h1.75v1.75h-1.75zM188.96 243.26h1.75v1.75h-1.75zM189.66 230.84h1.75v1.75h-1.75zM191.11 226.38h1.75v1.75h-1.75zM191.66 227.06h1.75v1.75h-1.75zM192.74 216.52h1.75v1.75h-1.75zM193.61 214.8h1.75v1.75h-1.75zM195.2 216.4h1.75v1.75h-1.75zM195.45 214.2h1.75v1.75h-1.75zM196.57 221.13h1.75v1.75h-1.75zM198.05 221.48h1.75v1.75h-1.75zM198.83 230.74h1.75v1.75h-1.75zM199.56 226.44h1.75v1.75h-1.75zM200.41 227.47h1.75v1.75h-1.75zM202.05 222.24h1.75v1.75h-1.75zM202.3 228.81h1.75v1.75h-1.75zM203.73 219.27h1.75v1.75h-1.75zM204.45 223.63h1.75v1.75h-1.75zM205.2 218.03h1.75v1.75h-1.75zM206.24 219.77h1.75v1.75h-1.75zM207.8 221.1h1.75v1.75h-1.75zM208.97 228.58h1.75v1.75h-1.75zM209.82 232.63h1.75v1.75h-1.75zM210.17 223.78h1.75v1.75h-1.75zM211.29 236.31h1.75v1.75h-1.75zM212.65 232.1h1.75v1.75h-1.75zM213.33 226.75h1.75v1.75h-1.75zM214.65 233.81h1.75v1.75h-1.75zM215.19 232.99h1.75v1.75h-1.75zM216.54 228.45h1.75v1.75h-1.75zM217.09 236.92h1.75v1.75h-1.75zM218.61 235.82h1.75v1.75h-1.75zM219.57 231.39h1.75v1.75h-1.75zM220.01 230.55h1.75v1.75h-1.75zM221.03 228.89h1.75v1.75h-1.75zM221.85 233.01h1.75v1.75h-1.75zM223.1 228h1.75v1.75h-1.75zM224.6 227.1h1.75v1.75h-1.75zM225.32 227.72h1.75v1.75h-1.75zM226.16 225.04h1.75v1.75h-1.75zM227.39 226.7h1.75v1.75h-1.75zM228.52 226.11h1.75v1.75h-1.75zM229.44 225.09h1.75v1.75h-1.75zM230.5 225.58h1.75v1.75h-1.75zM231.24 226.8h1.75v1.75h-1.75zM231.73 225.8h1.75v1.75h-1.75zM233.38 229.43h1.75v1.75h-1.75zM234.32 236.44h1.75v1.75h-1.75zM234.65 228.22h1.75v1.75h-1.75zM236.28 226.06h1.75v1.75h-1.75zM237.34 228.35h1.75v1.75h-1.75zM238.44 229.41h1.75v1.75h-1.75zM238.91 232.47h1.75v1.75h-1.75zM240.19 224.47h1.75v1.75h-1.75zM241.27 223.34h1.75v1.75h-1.75zM241.49 223.05h1.75v1.75h-1.75zM243.1 220.71h1.75v1.75h-1.75zM244.3 225.3h1.75v1.75h-1.75zM244.5 223.39h1.75v1.75h-1.75zM246.05 220.98h1.75v1.75h-1.75zM247.13 220.81h1.75v1.75h-1.75zM248.27 224.56h1.75v1.75h-1.75zM248.92 217.07h1.75v1.75h-1.75zM249.34 218.56h1.75v1.75h-1.75zM250.61 216.22h1.75v1.75h-1.75zM251.55 218.68h1.75v1.75h-1.75zM252.36 215.37h1.75v1.75h-1.75zM253.44 211.49h1.75v1.75h-1.75zM254.42 213.97h1.75v1.75h-1.75zM256.08 219.46h1.75v1.75h-1.75zM256.49 218.11h1.75v1.75h-1.75zM257.27 228.27h1.75v1.75h-1.75zM258.66 220.2h1.75v1.75h-1.75zM259.63 230.45h1.75v1.75h-1.75zM260.82 229.18h1.75v1.75h-1.75zM261.64 231.4h1.75v1.75h-1.75zM262.48 227.11h1.75v1.75h-1.75zM263.13 219.56h1.75v1.75h-1.75zM264.28 224.03h1.75v1.75h-1.75zM265.03 227h1.75v1.75h-1.75zM266.23 226.35h1.75v1.75h-1.75zM267.38 229.35h1.75v1.75h-1.75zM268.03 222.65h1.75v1.75h-1.75zM269.26 228.35h1.75v1.75h-1.75zM270.04 225.56h1.75v1.75h-1.75zM271.83 225.92h1.75v1.75h-1.75zM272.58 230.75h1.75v1.75h-1.75zM273.78 229.26h1.75v1.75h-1.75zM274.36 229.88h1.75v1.75h-1.75zM275.21 229.73h1.75v1.75h-1.75zM275.95 227.1h1.75v1.75h-1.75zM277.65 228.27h1.75v1.75h-1.75zM278.36 223.05h1.75v1.75h-1.75zM279.35 222.97h1.75v1.75h-1.75zM279.94 228.23h1.75v1.75h-1.75zM280.7 229.2h1.75v1.75h-1.75zM282.41 226.86h1.75v1.75h-1.75zM282.81 222.34h1.75v1.75h-1.75zM284.24 227.69h1.75v1.75h-1.75zM284.76 215.95h1.75v1.75h-1.75zM286.35 223.78h1.75v1.75h-1.75zM286.88 215.45h1.75v1.75h-1.75zM287.72 221.12h1.75v1.75h-1.75zM288.88 215.9h1.75v1.75h-1.75zM290.04 213.06h1.75v1.75h-1.75zM290.72 221.77h1.75v1.75h-1.75zM291.5 211.71h1.75v1.75h-1.75zM293.25 215.3h1.75v1.75h-1.75zM294.12 225.59h1.75v1.75h-1.75zM294.89 215.04h1.75v1.75h-1.75zM295.88 222.87h1.75v1.75h-1.75zM296.94 225.31h1.75v1.75h-1.75zM297.43 222.42h1.75v1.75h-1.75zM298.76 221.66h1.75v1.75h-1.75zM300.26 224.87h1.75v1.75h-1.75zM300.72 224.69h1.75v1.75h-1.75zM301.46 224.32h1.75v1.75h-1.75zM303.08 224.57h1.75v1.75h-1.75zM304.07 225.96h1.75v1.75h-1.75zM304.49 221.33h1.75v1.75h-1.75zM305.84 220.5h1.75v1.75h-1.75zM306.51 223.43h1.75v1.75h-1.75zM307.59 219.85h1.75v1.75h-1.75zM309.02 216.67h1.75v1.75h-1.75zM309.28 221.11h1.75v1.75h-1.75zM310.65 225.03h1.75v1.75h-1.75zM311.42 221.21h1.75v1.75h-1.75zM312.38 220.79h1.75v1.75h-1.75zM313.49 225.4h1.75v1.75h-1.75zM314.87 214.6h1.75v1.75h-1.75zM315.96 221.4h1.75v1.75h-1.75zM316.78 216.54h1.75v1.75h-1.75zM317.03 215.86h1.75v1.75h-1.75zM318.24 215.22h1.75v1.75h-1.75zM319.49 224.91h1.75v1.75h-1.75zM320.54 221.23h1.75v1.75h-1.75zM321.18 219.1h1.75v1.75h-1.75zM321.9 229.34h1.75v1.75h-1.75zM323.04 221.86h1.75v1.75h-1.75zM323.92 220.25h1.75v1.75h-1.75zM325.46 220.79h1.75v1.75h-1.75zM326.2 227.46h1.75v1.75h-1.75zM327.3 221.13h1.75v1.75h-1.75zM327.87 223.08h1.75v1.75h-1.75zM328.92 228.08h1.75v1.75h-1.75zM329.83 222.15h1.75v1.75h-1.75zM331.55 225.52h1.75v1.75h-1.75zM332.2 227.34h1.75v1.75h-1.75zM332.91 221.58h1.75v1.75h-1.75zM333.87 226.65h1.75v1.75h-1.75zM335.19 229.99h1.75v1.75h-1.75zM336.18 229.88h1.75v1.75h-1.75zM336.66 226.16h1.75v1.75h-1.75zM338 228.51h1.75v1.75h-1.75zM339.39 222.98h1.75v1.75h-1.75zM340.27 226.82h1.75v1.75h-1.75zM340.62 234.25h1.75v1.75h-1.75zM341.59 228.67h1.75v1.75h-1.75zM343.29 227.97h1.75v1.75h-1.75zM344.39 231.74h1.75v1.75h-1.75zM344.99 231.09h1.75v1.75h-1.75zM346.18 229.73h1.75v1.75h-1.75zM346.45 232.08h1.75v1.75h-1.75zM347.39 235.81h1.75v1.75h-1.75zM348.94 234.18h1.75v1.75h-1.75zM350.03 235.52h1.75v1.75h-1.75zM350.74 235.61h1.75v1.75h-1.75zM352.16 227.2h1.75v1.75h-1.75zM352.83 235.76h1.75v1.75h-1.75zM353.43 225.46h1.75v1.75h-1.75zM354.97 224.06h1.75v1.75h-1.75zM355.89 230.89h1.75v1.75h-1.75zM357.01 226.53h1.75v1.75h-1.75zM357.91 225.03h1.75v1.75h-1.75zM359.1 220.59h1.75v1.75h-1.75zM359.74 218.71h1.75v1.75h-1.75zM360.23 212.95h1.75v1.75h-1.75zM361.22 215.72h1.75v1.75h-1.75zM363 218.18h1.75v1.75h-1.75zM363.26 217.27h1.75v1.75h-1.75zM364.49 223.32h1.75v1.75h-1.75zM365.15 217.62h1.75v1.75h-1.75zM366.04 227.27h1.75v1.75h-1.75zM367.18 227.52h1.75v1.75h-1.75zM368.52 221.64h1.75v1.75h-1.75zM369.33 227.81h1.75v1.75h-1.75zM370.08 225.43h1.75v1.75h-1.75zM371.6 218.67h1.75v1.75h-1.75zM372.69 221.85h1.75v1.75h-1.75zM373.22 220.98h1.75v1.75h-1.75zM374.01 214.37h1.75v1.75h-1.75zM375.63 222.05h1.75v1.75h-1.75zM375.86 224.89h1.75v1.75h-1.75zM377.47 228.75h1.75v1.75h-1.75zM378.17 221.11h1.75v1.75h-1.75zM379.6 224.61h1.75v1.75h-1.75zM380.13 228.55h1.75v1.75h-1.75zM380.8 222.85h1.75v1.75h-1.75zM382.03 229.88h1.75v1.75h-1.75zM383.27 237.07h1.75v1.75h-1.75zM383.71 230.49h1.75v1.75h-1.75zM385.11 228.85h1.75v1.75h-1.75zM386.2 221.18h1.75v1.75h-1.75zM386.62 224.9h1.75v1.75h-1.75zM388.16 219.19h1.75v1.75h-1.75zM389.03 218.35h1.75v1.75h-1.75zM390.53 220.81h1.75v1.75h-1.75zM391.2 220.15h1.75v1.75h-1.75zM391.79 219.59h1.75v1.75h-1.75zM392.76 225.23h1.75v1.75h-1.75zM394.04 214.39h1.75v1.75h-1.75zM395.44 221.79h1.75v1.75h-1.75zM395.48 217.74h1.75v1.75h-1.75zM397.28 220h1.75v1.75h-1.75zM398.17 218.37h1.75v1.75h-1.75zM398.74 217.67h1.75v1.75h-1.75zM399.64 222.81h1.75v1.75h-1.75zM401.27 212.97h1.75v1.75h-1.75zM402 217.16h1.75v1.75h-1.75zM403.04 223.81h1.75v1.75h-1.75zM403.79 215.38h1.75v1.75h-1.75zM404.81 214.16h1.75v1.75h-1.75zM405.65 218.39h1.75v1.75h-1.75zM406.55 215.11h1.75v1.75h-1.75zM408.18 207.87h1.75v1.75h-1.75zM408.43 211.17h1.75v1.75h-1.75zM409.41 208.72h1.75v1.75h-1.75zM410.17 211.9h1.75v1.75h-1.75zM411.99 208.04h1.75v1.75h-1.75zM412.68 213.27h1.75v1.75h-1.75zM413.4 213.32h1.75v1.75h-1.75zM414.38 214.52h1.75v1.75h-1.75zM415.37 213.52h1.75v1.75h-1.75zM416.96 211.38h1.75v1.75h-1.75zM417.36 220.23h1.75v1.75h-1.75zM418.08 214.68h1.75v1.75h-1.75zM419.16 209.91h1.75v1.75h-1.75zM420.32 214.1h1.75v1.75h-1.75zM421.71 212.36h1.75v1.75h-1.75zM422 221.17h1.75v1.75h-1.75zM423.39 217.44h1.75v1.75h-1.75zM424.14 211.92h1.75v1.75h-1.75zM424.9 213.42h1.75v1.75h-1.75zM426.54 214.75h1.75v1.75h-1.75zM427.05 210.79h1.75v1.75h-1.75zM428.41 214.87h1.75v1.75h-1.75zM429.64 212.85h1.75v1.75h-1.75zM430.5 212.89h1.75v1.75h-1.75zM431.7 213.31h1.75v1.75h-1.75zM432.53 212.66h1.75v1.75h-1.75zM433.58 211.27h1.75v1.75h-1.75zM433.89 213.54h1.75v1.75h-1.75zM435.21 214.39h1.75v1.75h-1.75zM436.57 212.54h1.75v1.75h-1.75zM436.85 214.46h1.75v1.75h-1.75z" fill="#0000ff"/>
<path d="M51.66 183.78h1.75v1.75h-1.75zM52.28 177.02h1.75v1.75h-1.75zM52.82 175.21h1.75v1.75h-1.75zM53.93 181.83h1.75v1.75h-1.75zM54.69 178.69h1.75v1.75h-1.75zM55.64 175.59h1.75v1.75h-1.75zM56.44 176.54h1.75v1.75h-1.75zM56.89 182.14h1.75v1.75h-1.75zM58.51 176.9h1.75v1.75h-1.75zM58.57 174.79h1.75v1.75h-1.75zM59.61 175.74h1.75v1.75h-1.75zM60.24 180.62h1.75v1.75h-1.75zM61.62 181.69h1.75v1.75h-1.75zM61.88 181.62h1.75v1.75h-1.75zM63.07 177.42h1.75v1.75h-1.75zM63.93 176.37h1.75v1.75h-1.75zM64.77 181.2h1.75v1.75h-1.75zM65.37 184.39h1.75v1.75h-1.75zM66.5 185.04h1.75v1.75h-1.75zM67.36 190.51h1.75v1.75h-1.75zM68.19 189.08h1.75v1.75h-1.75zM69.18 187.03h1.75v1.75h-1.75zM69.63 189.4h1.75v1.75h-1.75zM70.8 186.2h1.75v1.75h-1.75zM71.24 185.13h1.75v1.75h-1.75zM72.21 182.37h1.75v1.75h-1.75zM73.3 175.4h1.75v1.75h-1.75zM73.5 178.06h1.75v1.75h-1.75zM74.16 174.65h1.75v1.75h-1.75zM75.06 179.99h1.75v1.75h-1.75zM76.23 177.91h1.75v1.75h-1.75zM76.75 179.51h1.75v1.75h-1.75zM77.54 175.41h1.75v1.75h-1.75zM78.39 176.14h1.75v1.75h-1.75zM79.2 169.2h1.75v1.75h-1.75zM79.91 177.4h1.75v1.75h-1.75zM81.51 175.15h1.75v1.75h-1.75zM81.94 176.16h1.75v1.75h-1.75zM83.01 177.28h1.75v1.75h-1.75zM83.55 177.07h1.75v1.75h-1.75zM84.08 187.64h1.75v1.75h-1.75zM85.42 187.34h1.75v1.75h-1.75zM85.97 185.54h1.75v1.75h-1.75zM87.17 189.25h1.75v1.75h-1.75zM87.62 187.33h1.75v1.75h-1.75zM88.86 191.7h1.75v1.75h-1.75zM89.11 185.89h1.75v1.75h-1.75zM89.95 188.24h1.75v1.75h-1.75zM90.76 193.1h1.75v1.75h-1.75zM91.56 190.72h1.75v1.75h-1.75zM92.46 187.58h1.75v1.75h-1.75zM93.85 198.94h1.75v1.75h-1.75zM93.98 202.87h1.75v1.75h-1.75zM95.39 205.99h1.75v1.75h-1.75zM96.12 205.12h1.75v1.75h-1.75zM97 207.52h1.75v1.75h-1.75zM97.54 211.76h1.75v1.75h-1.75zM98.69 212.84h1.75v1.75h-1.75zM99.28 215.18h1.75v1.75h-1.75zM99.98 205.43h1.75v1.75h-1.75zM100.6 208.98h1.75v1.75h-1.75zM101.98 210.17h1.75v1.75h-1.75zM102.78 218.49h1.75v1.75h-1.75zM103.04 221.1h1.75v1.75h-1.75zM103.96 205.78h1.75v1.75h-1.75zM104.56 220.46h1.75v1.75h-1.75zM105.37 219.13h1.75v1.75h-1.75zM106.93 215.99h1.75v1.75h-1.75zM107.08 217.21h1.75v1.75h-1.75zM107.96 211.85h1.75v1.75h-1.75zM108.92 210.83h1.75v1.75h-1.75zM110.22 210.65h1.75v1.75h-1.75zM111.09 205.25h1.75v1.75h-1.75zM111.14 212.71h1.75v1.75h-1.75zM112.5 218.12h1.75v1.75h-1.75zM112.78 209.66h1.75v1.75h-1.75zM113.93 212.05h1.75v1.75h-1.75zM114.48 222.27h1.75v1.75h-1.75zM115.48 222.23h1.75v1.75h-1.75zM116.76 229h1.75v1.75h-1.75zM116.97 229.18h1.75v1.75h-1.75zM118.04 230.41h1.75v1.75h-1.75zM118.63 233.79h1.75v1.75h-1.75zM119.93 229.56h1.75v1.75h-1.75zM120.44 232.02h1.75v1.75h-1.75zM121.38 236.13h1.75v1.75h-1.75zM121.97 232.43h1.75v1.75h-1.75zM123.41 239.5h1.75v1.75h-1.75zM123.66 231.97h1.75v1.75h-1.75zM124.4 236.29h1.75v1.75h-1.75zM125.11 238.39h1.75v1.75h-1.75zM126.32 234.69h1.75v1.75h-1.75zM127.02 241.39h1.75v1.75h-1.75zM127.55 237.49h1.75v1.75h-1.75zM128.81 235.51h1.75v1.75h-1.75zM129.64 237.02h1.75v1.75h-1.75zM130.73 233.36h1.75v1.75h-1.75zM131.42 239.18h1.75v1.75h-1.75zM132 243.67h1.75v1.75h-1.75zM133.27 240.09h1.75v1.75h-1.75zM133.63 245.03h1.75v1.75h-1.75zM134.24 243.44h1.75v1.75h-1.75zM135.44 242.75h1.75v1.75h-1.75zM136.52 242.3h1.75v1.75h-1.75zM136.89 247h1.75v1.75h-1.75zM137.6 242.67h1.75v1.75h-1.75zM138.92 243.36h1.75v1.75h-1.75zM139.69 242.44h1.75v1.75h-1.75zM140.44 240.73h1.75v1.75h-1.75zM140.96 238.57h1.75v1.75h-1.75zM141.77 237.51h1.75v1.75h-1.75zM143.13 246.13h1.75v1.75h-1.75zM143.86 240.3h1.75v1.75h-1.75zM144.4 232.28h1.75v1.75h-1.75zM144.99 233.88h1.75v1.75h-1.75zM146.14 239.42h1.75v1.75h-1.75zM147.03 235.96h1.75v1.75h-1.75zM147.59 234.48h1.75v1.75h-1.75zM148.64 238.01h1.75v1.75h-1.75zM149.17 235.69h1.75v1.75h-1.75zM149.91 235.5h1.75v1.75h-1.75zM151.06 237.83h1.75v1.75h-1.75zM151.76 245.9h1.75v1.75h-1.75zM152.79 234.61h1.75v1.75h-1.75zM153.2 237.89h1.75v1.75h-1.75zM153.96 242.13h1.75v1.75h-1.75zM155.09 236.49h1.75v1.75h-1.75zM155.92 239.26h1.75v1.75h-1.75zM156.45 235.94h1.75v1.75h-1.75zM157.8 233.48h1.75v1.75h-1.75zM158.63 239.35h1.75v1.75h-1.75zM159.5 239.31h1.75v1.75h-1.75zM159.9 238.42h1.75v1.75h-1.75zM161.1 241.47h1.75v1.75h-1.75zM161.36 239.52h1.75v1.75h-1.75zM162.26 244.86h1.75v1.75h-1.75zM163.54 245.93h1.75v1.75h-1.75zM164.13 243.4h1.75v1.75h-1.75zM164.85 246.18h1.75v1.75h-1.75zM166.16 244.35h1.75v1.75h-1.75zM166.56 241.91h1.75v1.75h-1.75zM167.64 244.97h1.75v1.75h-1.75zM168.37 242.57h1.75v1.75h-1.75zM168.93 241.74h1.75v1.75h-1.75zM169.76 243.48h1.75v1.75h-1.75zM170.55 242.94h1.75v1.75h-1.75zM171.26 243.47h1.75v1.75h-1.75zM172.39 244.28h1.75v1.75h-1.75zM173.33 242.41h1.75v1.75h-1.75zM173.79 240.22h1.75v1.75h-1.75zM175.07 242.76h1.75v1.75h-1.75zM175.28 235.94h1.75v1.75h-1.75zM176.19 234.67h1.75v1.75h-1.75zM177.2 239.84h1.75v1.75h-1.75zM177.97 228.2h1.75v1.75h-1.75zM178.53 225.57h1.75v1.75h-1.75zM179.9 225.4h1.75v1.75h-1.75zM180.38 220.22h1.75v1.75h-1.75zM181.62 227.23h1.75v1.75h-1.75zM182.07 221.26h1.75v1.75h-1.75zM183.36 227.78h1.75v1.75h-1.75zM183.58 230.14h1.75v1.75h-1.75zM184.55 224.07h1.75v1.75h-1.75zM185.61 225.35h1.75v1.75h-1.75zM186.51 228.69h1.75v1.75h-1.75zM187.02 224.51h1.75v1.75h-1.75zM188.27 229.99h1.75v1.75h-1.75zM188.97 236.36h1.75v1.75h-1.75zM189.55 233h1.75v1.75h-1.75zM190.37 234.42h1.75v1.75h-1.75zM191.21 229.84h1.75v1.75h-1.75zM192.37 229.53h1.75v1.75h-1.75zM192.88 234.84h1.75v1.75h-1.75zM193.96 231.06h1.75v1.75h-1.75zM194.43 228.99h1.75v1.75h-1.75zM194.96 232.23h1.75v1.75h-1.75zM196.38 230.5h1.75v1.75h-1.75zM197.2 236.36h1.75v1.75h-1.75zM197.45 236.27h1.75v1.75h-1.75zM198.88 236.13h1.75v1.75h-1.75zM199.65 236h1.75v1.75h-1.75zM200.32 240.11h1.75v1.75h-1.75zM201.26 237.23h1.75v1.75h-1.75zM201.9 240.53h1.75v1.75h-1.75zM202.66 237.56h1.75v1.75h-1.75zM203.62 242.28h1.75v1.75h-1.75zM204.68 235.49h1.75v1.75h-1.75zM204.91 233.27h1.75v1.75h-1.75zM205.61 238.18h1.75v1.75h-1.75zM207.24 232.6h1.75v1.75h-1.75zM207.51 235.36h1.75v1.75h-1.75zM208.28 234.7h1.75v1.75h-1.75zM209.31 227.71h1.75v1.75h-1.75zM210.06 233.56h1.75v1.75h-1.75zM211.25 231.33h1.75v1.75h-1.75zM212.02 231.79h1.75v1.75h-1.75zM212.35 228h1.75v1.75h-1.75zM213.05 226.62h1.75v1.75h-1.75zM214.21 228.68h1.75v1.75h-1.75zM215.05 226.35h1.75v1.75h-1.75zM216.13 227.33h1.75v1.75h-1.75zM216.45 232.69h1.75v1.75h-1.75zM217.15 226.68h1.75v1.75h-1.75zM218.19 225.2h1.75v1.75h-1.75zM219.22 227.72h1.75v1.75h-1.75zM219.84 227.44h1.75v1.75h-1.75zM220.64 234.2h1.75v1.75h-1.75zM221.8 229.43h1.75v1.75h-1.75zM222.42 223.49h1.75v1.75h-1.75zM223.63 220.94h1.75v1.75h-1.75zM223.73 229.84h1.75v1.75h-1.75zM224.86 226.5h1.75v1.75h-1.75zM226.04 226.07h1.75v1.75h-1.75zM226.21 225.09h1.75v1.75h-1.75zM227.73 225.05h1.75v1.75h-1.75zM228.25 227.22h1.75v1.75h-1.75zM229.17 221.64h1.75v1.75h-1.75zM229.99 224.3h1.75v1.75h-1.75zM230.95 226.64h1.75v1.75h-1.75zM231.2 226.26h1.75v1.75h-1.75zM231.99 222.65h1.75v1.75h-1.75zM232.8 225.1h1.75v1.75h-1.75zM233.89 214.61h1.75v1.75h-1.75zM234.91 221.14h1.75v1.75h-1.75zM235.75 228.1h1.75v1.75h-1.75zM236.14 225.28h1.75v1.75h-1.75zM236.87 221.52h1.75v1.75h-1.75zM238.34 217.67h1.75v1.75h-1.75zM238.95 220.16h1.75v1.75h-1.75zM239.56 215.65h1.75v1.75h-1.75zM240.87 216.31h1.75v1.75h-1.75zM241.21 217.99h1.75v1.75h-1.75zM242.42 214.89h1.75v1.75h-1.75zM243.39 215.52h1.75v1.75h-1.75zM243.72 216.65h1.75v1.75h-1.75zM244.75 216.46h1.75v1.75h-1.75zM245.13 219.84h1.75v1.75h-1.75zM246.25 216.12h1.75v1.75h-1.75zM247.25 213.91h1.75v1.75h-1.75zM247.61 218.62h1.75v1.75h-1.75zM249.1 217.57h1.75v1.75h-1.75zM249.98 224.35h1.75v1.75h-1.75zM250.22 219.33h1.75v1.75h-1.75zM251.09 222.27h1.75v1.75h-1.75zM252.39 220.36h1.75v1.75h-1.75zM252.52 217.8h1.75v1.75h-1.75zM253.76 227.19h1.75v1.75h-1.75zM254.53 229.12h1.75v1.75h-1.75zM255.13 229.12h1.75v1.75h-1.75zM256.47 230.84h1.75v1.75h-1.75zM257.31 228.3h1.75v1.75h-1.75zM257.4 223.17h1.75v1.75h-1.75zM258.48 226.31h1.75v1.75h-1.75zM259.8 230.85h1.75v1.75h-1.75zM260.11 230.23h1.75v1.75h-1.75zM261.03 230.31h1.75v1.75h-1.75zM261.63 235.22h1.75v1.75h-1.75zM262.95 227.91h1.75v1.75h-1.75zM263.59 228.89h1.75v1.75h-1.75zM264.03 221.55h1.75v1.75h-1.75zM265.26 224.99h1.75v1.75h-1.75zM265.97 230.75h1.75v1.75h-1.75zM266.49 227.51h1.75v1.75h-1.75zM267.77 229.41h1.75v1.75h-1.75zM268.35 229.57h1.75v1.75h-1.75zM269.19 225.04h1.75v1.75h-1.75zM269.84 224.03h1.75v1.75h-1.75zM271.3 221.83h1.75v1.75h-1.75zM272.06 230.35h1.75v1.75h-1.75zM272.56 225.3h1.75v1.75h-1.75zM273.71 225.05h1.75v1.75h-1.75zM273.91 219.52h1.75v1.75h-1.75zM274.73 223.43h1.75v1.75h-1.75zM275.84 224.64h1.75v1.75h-1.75zM276.69 225.3h1.75v1.75h-1.75zM277.4 222.16h1.75v1.75h-1.75zM278.09 223.68h1.75v1.75h-1.75zM278.84 220.15h1.75v1.75h-1.75zM279.97 225.55h1.75v1.75h-1.75zM281.12 225.45h1.75v1.75h-1.75zM281.61 218.52h1.75v1.75h-1.75zM282.68 213.32h1.75v1.75h-1.75zM283.04 215.88h1.75v1.75h-1.75zM284.29 219.93h1.75v1.75h-1.75zM284.52 220.66h1.75v1.75h-1.75zM285.64 215.95h1.75v1.75h-1.75zM286.87 218.74h1.75v1.75h-1.75zM287.03 216.91h1.75v1.75h-1.75zM288.27 218.44h1.75v1.75h-1.75zM289.25 219.74h1.75v1.75h-1.75zM289.62 219.02h1.75v1.75h-1.75zM290.74 221.65h1.75v1.75h-1.75zM291.57 220.93h1.75v1.75h-1.75zM292.46 222.64h1.75v1.75h-1.75zM293.38 218.95h1.75v1.75h-1.75zM293.91 222.47h1.75v1.75h-1.75zM295.13 222.79h1.75v1.75h-1.75zM295.51 222.16h1.75v1.75h-1.75zM296.2 224.79h1.75v1.75h-1.75zM297.42 224.25h1.75v1.75h-1.75zM297.92 223.79h1.75v1.75h-1.75zM298.58 226.9h1.75v1.75h-1.75zM299.56 228.71h1.75v1.75h-1.75zM300.91 231.9h1.75v1.75h-1.75zM301.32 225.61h1.75v1.75h-1.75zM302.16 226.72h1.75v1.75h-1.75zM303.19 217.63h1.75v1.75h-1.75zM303.91 226.13h1.75v1.75h-1.75zM304.91 228.74h1.75v1.75h-1.75zM305.68 228.27h1.75v1.75h-1.75zM306.14 226.41h1.75v1.75h-1.75zM306.81 227.96h1.75v1.75h-1.75zM308.11 221.05h1.75v1.75h-1.75zM308.43 225.7h1.75v1.75h-1.75zM309.89 213.9h1.75v1.75h-1.75zM310.58 223.52h1.75v1.75h-1.75zM311.27 214.78h1.75v1.75h-1.75zM311.97 222.69h1.75v1.75h-1.75zM313.15 214.48h1.75v1.75h-1.75zM313.5 223.79h1.75v1.75h-1.75zM314.85 218.49h1.75v1.75h-1.75zM314.99 225.35h1.75v1.75h-1.75zM315.92 218.15h1.75v1.75h-1.75zM317.23 219.45h1.75v1.75h-1.75zM317.74 221.78h1.75v1.75h-1.75zM318.38 212.54h1.75v1.75h-1.75zM319.57 221.1h1.75v1.75h-1.75zM320.41 216.68h1.75v1.75h-1.75zM321.3 225.64h1.75v1.75h-1.75zM322.03 228.33h1.75v1.75h-1.75zM322.63 220.52h1.75v1.75h-1.75zM323.18 219.41h1.75v1.75h-1.75zM324.21 217.94h1.75v1.75h-1.75zM325.25 226.45h1.75v1.75h-1.75zM325.58 218.2h1.75v1.75h-1.75zM326.8 225.13h1.75v1.75h-1.75zM327.89 223.77h1.75v1.75h-1.75zM328.39 220.68h1.75v1.75h-1.75zM329.14 221.43h1.75v1.75h-1.75zM329.86 219.98h1.75v1.75h-1.75zM331.02 229.54h1.75v1.75h-1.75zM331.57 226.79h1.75v1.75h-1.75zM332.73 226.28h1.75v1.75h-1.75zM333.34 221.78h1.75v1.75h-1.75zM333.89 220h1.75v1.75h-1.75zM335.18 231.74h1.75v1.75h-1.75zM335.59 227.39h1.75v1.75h-1.75zM336.48 229.22h1.75v1.75h-1.75zM337.27 225.66h1.75v1.75h-1.75zM338.64 221.67h1.75v1.75h-1.75zM339.05 222.83h1.75v1.75h-1.75zM339.96 231.78h1.75v1.75h-1.75zM341.18 227.42h1.75v1.75h-1.75zM341.35 229.59h1.75v1.75h-1.75zM342.45 227.41h1.75v1.75h-1.75zM342.83 233.08h1.75v1.75h-1.75zM344.03 237.01h1.75v1.75h-1.75zM345.14 229.91h1.75v1.75h-1.75zM345.38 233.15h1.75v1.75h-1.75zM346.58 232.86h1.75v1.75h-1.75zM347.25 227.24h1.75v1.75h-1.75zM348.53 234.56h1.75v1.75h-1.75zM348.65 227.51h1.75v1.75h-1.75zM349.92 222.33h1.75v1.75h-1.75zM350.53 232.66h1.75v1.75h-1.75zM351.59 226.72h1.75v1.75h-1.75zM352.3 226h1.75v1.75h-1.75zM353.25 231.09h1.75v1.75h-1.75zM353.82 225.15h1.75v1.75h-1.75zM355.14 232.88h1.75v1.75h-1.75zM355.72 228.93h1.75v1.75h-1.75zM356.44 221.1h1.75v1.75h-1.75zM357.54 227.98h1.75v1.75h-1.75z" fill="#ff0000"/>
</g>
<rect x="51.3" y="17.4" width="387.6" height="93.8" fill="none" stroke="#222" stroke-width="1"/>
<rect x="51.3" y="117" width="387.6" height="185.1" fill="none" stroke="#222" stroke-width="1"/>
<line x1="47.3" y1="110.9" x2="51.3" y2="110.9" stroke="#222" stroke-width="1" />
<text x="45" y="114.8" font-size="12.5" text-anchor="end" letter-spacing="-0.55" fill="#111" stroke="#111" stroke-width="0.28" >244</text>
<line x1="49.1" y1="101.99" x2="51.3" y2="101.99" stroke="#222" stroke-width="1" />
<line x1="47.3" y1="93.08" x2="51.3" y2="93.08" stroke="#222" stroke-width="1" />
<text x="45" y="96.98" font-size="12.5" text-anchor="end" letter-spacing="-0.55" fill="#111" stroke="#111" stroke-width="0.28" >248</text>
<line x1="49.1" y1="84.17" x2="51.3" y2="84.17" stroke="#222" stroke-width="1" />
<line x1="47.3" y1="75.26" x2="51.3" y2="75.26" stroke="#222" stroke-width="1" />
<text x="45" y="79.16" font-size="12.5" text-anchor="end" letter-spacing="-0.55" fill="#111" stroke="#111" stroke-width="0.28" >252</text>
<line x1="49.1" y1="66.35" x2="51.3" y2="66.35" stroke="#222" stroke-width="1" />
<line x1="47.3" y1="57.44" x2="51.3" y2="57.44" stroke="#222" stroke-width="1" />
<text x="45" y="61.34" font-size="12.5" text-anchor="end" letter-spacing="-0.55" fill="#111" stroke="#111" stroke-width="0.28" >256</text>
<line x1="49.1" y1="48.53" x2="51.3" y2="48.53" stroke="#222" stroke-width="1" />
<line x1="47.3" y1="39.62" x2="51.3" y2="39.62" stroke="#222" stroke-width="1" />
<text x="45" y="43.52" font-size="12.5" text-anchor="end" letter-spacing="-0.55" fill="#111" stroke="#111" stroke-width="0.28" >260</text>
<line x1="49.1" y1="30.71" x2="51.3" y2="30.71" stroke="#222" stroke-width="1" />
<line x1="47.3" y1="21.8" x2="51.3" y2="21.8" stroke="#222" stroke-width="1" />
<text x="45" y="25.7" font-size="12.5" text-anchor="end" letter-spacing="-0.55" fill="#111" stroke="#111" stroke-width="0.28" >264</text>
<line x1="438.9" y1="112.04" x2="441.1" y2="112.04" stroke="#222" stroke-width="1" />
<line x1="438.9" y1="104.47" x2="441.1" y2="104.47" stroke="#222" stroke-width="1" />
<line x1="438.9" y1="96.9" x2="442.9" y2="96.9" stroke="#222" stroke-width="1" />
<text x="445.6" y="101.3" font-size="12.5" text-anchor="start" letter-spacing="-0.6" fill="#111" stroke="#111" stroke-width="0.28" >50</text>
<line x1="438.9" y1="89.33" x2="441.1" y2="89.33" stroke="#222" stroke-width="1" />
<line x1="438.9" y1="81.76" x2="441.1" y2="81.76" stroke="#222" stroke-width="1" />
<line x1="438.9" y1="74.19" x2="441.1" y2="74.19" stroke="#222" stroke-width="1" />
<line x1="438.9" y1="66.62" x2="441.1" y2="66.62" stroke="#222" stroke-width="1" />
<line x1="438.9" y1="59.05" x2="442.9" y2="59.05" stroke="#222" stroke-width="1" />
<text x="445.6" y="63.45" font-size="12.5" text-anchor="start" letter-spacing="-0.6" fill="#111" stroke="#111" stroke-width="0.28" >100</text>
<line x1="438.9" y1="51.48" x2="441.1" y2="51.48" stroke="#222" stroke-width="1" />
<line x1="438.9" y1="43.91" x2="441.1" y2="43.91" stroke="#222" stroke-width="1" />
<line x1="438.9" y1="36.34" x2="441.1" y2="36.34" stroke="#222" stroke-width="1" />
<line x1="438.9" y1="28.77" x2="441.1" y2="28.77" stroke="#222" stroke-width="1" />
<line x1="438.9" y1="21.2" x2="442.9" y2="21.2" stroke="#222" stroke-width="1" />
<text x="445.6" y="25.6" font-size="12.5" text-anchor="start" letter-spacing="-0.6" fill="#111" stroke="#111" stroke-width="0.28" >150</text>
<line x1="47.3" y1="302" x2="51.3" y2="302" stroke="#222" stroke-width="1" />
<text x="45" y="305.9" font-size="12.5" text-anchor="end" letter-spacing="-0.55" fill="#111" stroke="#111" stroke-width="0.28" >0</text>
<line x1="49.1" y1="287.18" x2="51.3" y2="287.18" stroke="#222" stroke-width="1" />
<line x1="47.3" y1="272.37" x2="51.3" y2="272.37" stroke="#222" stroke-width="1" />
<text x="45" y="276.27" font-size="12.5" text-anchor="end" letter-spacing="-0.55" fill="#111" stroke="#111" stroke-width="0.28" >40</text>
<line x1="49.1" y1="257.55" x2="51.3" y2="257.55" stroke="#222" stroke-width="1" />
<line x1="47.3" y1="242.74" x2="51.3" y2="242.74" stroke="#222" stroke-width="1" />
<text x="45" y="246.64" font-size="12.5" text-anchor="end" letter-spacing="-0.55" fill="#111" stroke="#111" stroke-width="0.28" >80</text>
<line x1="49.1" y1="227.92" x2="51.3" y2="227.92" stroke="#222" stroke-width="1" />
<line x1="47.3" y1="213.1" x2="51.3" y2="213.1" stroke="#222" stroke-width="1" />
<text x="45" y="217" font-size="12.5" text-anchor="end" letter-spacing="-0.55" fill="#111" stroke="#111" stroke-width="0.28" >120</text>
<line x1="49.1" y1="198.29" x2="51.3" y2="198.29" stroke="#222" stroke-width="1" />
<line x1="47.3" y1="183.47" x2="51.3" y2="183.47" stroke="#222" stroke-width="1" />
<text x="45" y="187.37" font-size="12.5" text-anchor="end" letter-spacing="-0.55" fill="#111" stroke="#111" stroke-width="0.28" >160</text>
<line x1="49.1" y1="168.66" x2="51.3" y2="168.66" stroke="#222" stroke-width="1" />
<line x1="47.3" y1="153.84" x2="51.3" y2="153.84" stroke="#222" stroke-width="1" />
<text x="45" y="157.74" font-size="12.5" text-anchor="end" letter-spacing="-0.55" fill="#111" stroke="#111" stroke-width="0.28" >200</text>
<line x1="49.1" y1="139.02" x2="51.3" y2="139.02" stroke="#222" stroke-width="1" />
<line x1="47.3" y1="124.21" x2="51.3" y2="124.21" stroke="#222" stroke-width="1" />
<text x="45" y="128.11" font-size="12.5" text-anchor="end" letter-spacing="-0.55" fill="#111" stroke="#111" stroke-width="0.28" >240</text>
<line x1="438.9" y1="302" x2="442.9" y2="302" stroke="#222" stroke-width="1" />
<text x="445.6" y="306.4" font-size="12.5" text-anchor="start" letter-spacing="-0.6" fill="#111" stroke="#111" stroke-width="0.28" >4000</text>
<line x1="438.9" y1="286.57" x2="441.1" y2="286.57" stroke="#222" stroke-width="1" />
<line x1="438.9" y1="271.15" x2="442.9" y2="271.15" stroke="#222" stroke-width="1" />
<text x="445.6" y="275.55" font-size="12.5" text-anchor="start" letter-spacing="-0.6" fill="#111" stroke="#111" stroke-width="0.28" >5000</text>
<line x1="438.9" y1="255.72" x2="441.1" y2="255.72" stroke="#222" stroke-width="1" />
<line x1="438.9" y1="240.3" x2="442.9" y2="240.3" stroke="#222" stroke-width="1" />
<text x="445.6" y="244.7" font-size="12.5" text-anchor="start" letter-spacing="-0.6" fill="#111" stroke="#111" stroke-width="0.28" >6000</text>
<line x1="438.9" y1="224.88" x2="441.1" y2="224.88" stroke="#222" stroke-width="1" />
<line x1="438.9" y1="209.45" x2="442.9" y2="209.45" stroke="#222" stroke-width="1" />
<text x="445.6" y="213.85" font-size="12.5" text-anchor="start" letter-spacing="-0.6" fill="#111" stroke="#111" stroke-width="0.28" >7000</text>
<line x1="438.9" y1="194.03" x2="441.1" y2="194.03" stroke="#222" stroke-width="1" />
<line x1="438.9" y1="178.6" x2="442.9" y2="178.6" stroke="#222" stroke-width="1" />
<text x="445.6" y="183" font-size="12.5" text-anchor="start" letter-spacing="-0.6" fill="#111" stroke="#111" stroke-width="0.28" >8000</text>
<line x1="438.9" y1="163.18" x2="441.1" y2="163.18" stroke="#222" stroke-width="1" />
<line x1="438.9" y1="147.75" x2="442.9" y2="147.75" stroke="#222" stroke-width="1" />
<text x="445.6" y="152.15" font-size="12.5" text-anchor="start" letter-spacing="-0.6" fill="#111" stroke="#111" stroke-width="0.28" >9000</text>
<line x1="438.9" y1="132.33" x2="441.1" y2="132.33" stroke="#222" stroke-width="1" />
<line x1="438.9" y1="116.9" x2="442.9" y2="116.9" stroke="#222" stroke-width="1" />
<text x="445.6" y="121.3" font-size="12.5" text-anchor="start" letter-spacing="-0.6" fill="#111" stroke="#111" stroke-width="0.28" >10000</text>
<line x1="51.3" y1="302.1" x2="51.3" y2="306.1" stroke="#222" stroke-width="1" />
<text x="51.5" y="319.1" font-size="12.5" text-anchor="middle" letter-spacing="-0.25" fill="#111" stroke="#111" stroke-width="0.28" >09:12</text>
<line x1="90.06" y1="302.1" x2="90.06" y2="306.1" stroke="#222" stroke-width="1" />
<text x="90.26" y="319.1" font-size="12.5" text-anchor="middle" letter-spacing="-0.25" fill="#111" stroke="#111" stroke-width="0.28" >09:14</text>
<line x1="128.82" y1="302.1" x2="128.82" y2="306.1" stroke="#222" stroke-width="1" />
<text x="129.02" y="319.1" font-size="12.5" text-anchor="middle" letter-spacing="-0.25" fill="#111" stroke="#111" stroke-width="0.28" >09:16</text>
<line x1="167.58" y1="302.1" x2="167.58" y2="306.1" stroke="#222" stroke-width="1" />
<text x="167.78" y="319.1" font-size="12.5" text-anchor="middle" letter-spacing="-0.25" fill="#111" stroke="#111" stroke-width="0.28" >09:18</text>
<line x1="206.34" y1="302.1" x2="206.34" y2="306.1" stroke="#222" stroke-width="1" />
<text x="206.54" y="319.1" font-size="12.5" text-anchor="middle" letter-spacing="-0.25" fill="#111" stroke="#111" stroke-width="0.28" >09:20</text>
<line x1="245.1" y1="302.1" x2="245.1" y2="306.1" stroke="#222" stroke-width="1" />
<text x="245.3" y="319.1" font-size="12.5" text-anchor="middle" letter-spacing="-0.25" fill="#111" stroke="#111" stroke-width="0.28" >09:22</text>
<line x1="283.86" y1="302.1" x2="283.86" y2="306.1" stroke="#222" stroke-width="1" />
<text x="284.06" y="319.1" font-size="12.5" text-anchor="middle" letter-spacing="-0.25" fill="#111" stroke="#111" stroke-width="0.28" >09:24</text>
<line x1="322.62" y1="302.1" x2="322.62" y2="306.1" stroke="#222" stroke-width="1" />
<text x="322.82" y="319.1" font-size="12.5" text-anchor="middle" letter-spacing="-0.25" fill="#111" stroke="#111" stroke-width="0.28" >09:26</text>
<line x1="361.38" y1="302.1" x2="361.38" y2="306.1" stroke="#222" stroke-width="1" />
<text x="361.58" y="319.1" font-size="12.5" text-anchor="middle" letter-spacing="-0.25" fill="#111" stroke="#111" stroke-width="0.28" >09:28</text>
<line x1="400.14" y1="302.1" x2="400.14" y2="306.1" stroke="#222" stroke-width="1" />
<text x="400.34" y="319.1" font-size="12.5" text-anchor="middle" letter-spacing="-0.25" fill="#111" stroke="#111" stroke-width="0.28" >09:30</text>
<line x1="438.9" y1="302.1" x2="438.9" y2="306.1" stroke="#222" stroke-width="1" />
<text x="439.1" y="319.1" font-size="12.5" text-anchor="middle" letter-spacing="-0.25" fill="#111" stroke="#111" stroke-width="0.28" >09:32</text>
<text x="11.9" y="6" font-size="12.5" text-anchor="middle" letter-spacing="-0.4" fill="#111" stroke="#111" stroke-width="0.28" dominant-baseline="hanging">(a)</text>
<text transform="translate(15.4 63.8) rotate(-90)" font-size="13" text-anchor="middle" letter-spacing="-0.5" fill="#111" stroke="#111" stroke-width="0.28">Temperature (K)</text>
<text transform="translate(15.4 231.5) rotate(-90)" font-size="13" text-anchor="middle" letter-spacing="-0.6" fill="#111" stroke="#111" stroke-width="0.28">O<tspan font-size="8.5" dy="2.6">3</tspan><tspan dy="-2.6"> (ppbv)</tspan></text>
<text transform="translate(486.2 64.8) rotate(90)" font-size="13" text-anchor="middle" letter-spacing="-0.66" fill="#111" stroke="#111" stroke-width="0.28">RH over ice (%)</text>
<text transform="translate(485 210.3) rotate(90)" font-size="13" text-anchor="middle" letter-spacing="-0.66" fill="#111" stroke="#111" stroke-width="0.28">Altitude (m)</text>
<text x="245.6" y="334.8" font-size="13" text-anchor="middle" letter-spacing="-0.66" fill="#111" stroke="#111" stroke-width="0.28" >Time (UTC)</text>
<rect x="55.6" y="21" width="161.8" height="25.4" fill="#fff" stroke="#222" stroke-width="1"/>
<rect x="64.4" y="25.4" width="5.6" height="5.6" fill="#6e0d10"/>
<text x="77" y="31" font-size="9.4" letter-spacing="-0.35" fill="#111" stroke="#111" stroke-width="0.2">T<tspan font-size="6.6" dy="2.1" letter-spacing="0">air</tspan><tspan dy="-2.1"> Learjet</tspan></text>
<rect x="64.4" y="36.8" width="5.6" height="5.6" fill="#ff8a8a"/>
<text x="77" y="42.4" font-size="9.4" letter-spacing="-0.35" fill="#111" stroke="#111" stroke-width="0.2">T<tspan font-size="6.6" dy="2.1" letter-spacing="0">air</tspan><tspan dy="-2.1"> TPC-TOSS</tspan></text>
<rect x="142.4" y="25.4" width="5.6" height="5.6" fill="#0d6b3a"/>
<text x="155" y="31" font-size="9.4" letter-spacing="-0.35" fill="#111" stroke="#111" stroke-width="0.2">RHI Learjet</text>
<rect x="142.4" y="36.8" width="5.6" height="5.6" fill="#13cf66"/>
<text x="155" y="42.4" font-size="9.4" letter-spacing="-0.35" fill="#111" stroke="#111" stroke-width="0.2">RHI TPC-TOSS</text>
<rect x="55.6" y="272" width="186" height="26" fill="#fff" stroke="#222" stroke-width="1"/>
<rect x="64.4" y="276.6" width="5.6" height="5.6" fill="#000"/>
<text x="79" y="282.2" font-size="9.4" letter-spacing="-0.35" fill="#111" stroke="#111" stroke-width="0.2">altitude Learjet</text>
<rect x="64.4" y="287.8" width="5.6" height="5.6" fill="#a9a9a9"/>
<text x="79" y="293.4" font-size="9.4" letter-spacing="-0.35" fill="#111" stroke="#111" stroke-width="0.2">altitude TPC-TOSS</text>
<rect x="168.4" y="276.6" width="5.6" height="5.6" fill="#0000ff"/>
<text x="183.6" y="282.2" font-size="9.4" letter-spacing="-0.35" fill="#111" stroke="#111" stroke-width="0.2">O<tspan font-size="6.6" dy="2.1" letter-spacing="0">3</tspan><tspan dy="-2.1"> Learjet</tspan></text>
<rect x="168.4" y="287.8" width="5.6" height="5.6" fill="#ff0000"/>
<text x="183.6" y="293.4" font-size="9.4" letter-spacing="-0.35" fill="#111" stroke="#111" stroke-width="0.2">O<tspan font-size="6.6" dy="2.1" letter-spacing="0">3</tspan><tspan dy="-2.1"> TPC-TOSS</tspan></text>
<line x1="41.6" y1="610.52" x2="470" y2="610.52" stroke="#e0e0e0" stroke-width="0.6" stroke-dasharray="1.5 1"/>
<line x1="41.6" y1="575.05" x2="470" y2="575.05" stroke="#e0e0e0" stroke-width="0.6" stroke-dasharray="1.5 1"/>
<line x1="41.6" y1="539.58" x2="470" y2="539.58" stroke="#e0e0e0" stroke-width="0.6" stroke-dasharray="1.5 1"/>
<line x1="41.6" y1="504.1" x2="470" y2="504.1" stroke="#e0e0e0" stroke-width="0.6" stroke-dasharray="1.5 1"/>
<line x1="41.6" y1="468.62" x2="470" y2="468.62" stroke="#e0e0e0" stroke-width="0.6" stroke-dasharray="1.5 1"/>
<line x1="41.6" y1="433.15" x2="470" y2="433.15" stroke="#e0e0e0" stroke-width="0.6" stroke-dasharray="1.5 1"/>
<line x1="41.6" y1="397.68" x2="470" y2="397.68" stroke="#e0e0e0" stroke-width="0.6" stroke-dasharray="1.5 1"/>
<line x1="50" y1="362.2" x2="50" y2="646" stroke="#e0e0e0" stroke-width="0.6" stroke-dasharray="1.5 1"/>
<line x1="78.9" y1="362.2" x2="78.9" y2="646" stroke="#e0e0e0" stroke-width="0.6" stroke-dasharray="1.5 1"/>
<line x1="107.8" y1="362.2" x2="107.8" y2="646" stroke="#e0e0e0" stroke-width="0.6" stroke-dasharray="1.5 1"/>
<line x1="136.7" y1="362.2" x2="136.7" y2="646" stroke="#e0e0e0" stroke-width="0.6" stroke-dasharray="1.5 1"/>
<line x1="165.6" y1="362.2" x2="165.6" y2="646" stroke="#e0e0e0" stroke-width="0.6" stroke-dasharray="1.5 1"/>
<line x1="220" y1="362.2" x2="220" y2="646" stroke="#e0e0e0" stroke-width="0.6" stroke-dasharray="1.5 1"/>
<line x1="261.3" y1="362.2" x2="261.3" y2="646" stroke="#e0e0e0" stroke-width="0.6" stroke-dasharray="1.5 1"/>
<line x1="302.6" y1="362.2" x2="302.6" y2="646" stroke="#e0e0e0" stroke-width="0.6" stroke-dasharray="1.5 1"/>
<line x1="345.3" y1="362.2" x2="345.3" y2="646" stroke="#e0e0e0" stroke-width="0.6" stroke-dasharray="1.5 1"/>
<line x1="398.6" y1="362.2" x2="398.6" y2="646" stroke="#e0e0e0" stroke-width="0.6" stroke-dasharray="1.5 1"/>
<line x1="451.9" y1="362.2" x2="451.9" y2="646" stroke="#e0e0e0" stroke-width="0.6" stroke-dasharray="1.5 1"/>
<rect x="47.11" y="631.81" width="5.78" height="14.19" fill="#8484e2" stroke="#2323d2" stroke-width="1"/>
<rect x="52.89" y="624.72" width="5.78" height="21.28" fill="#8484e2" stroke="#2323d2" stroke-width="1"/>
<rect x="58.67" y="596.34" width="5.78" height="49.66" fill="#8484e2" stroke="#2323d2" stroke-width="1"/>
<rect x="64.45" y="617.62" width="5.78" height="28.38" fill="#8484e2" stroke="#2323d2" stroke-width="1"/>
<rect x="70.23" y="589.24" width="5.78" height="56.76" fill="#8484e2" stroke="#2323d2" stroke-width="1"/>
<rect x="76.01" y="596.34" width="5.78" height="49.66" fill="#8484e2" stroke="#2323d2" stroke-width="1"/>
<rect x="81.79" y="589.24" width="5.78" height="56.76" fill="#8484e2" stroke="#2323d2" stroke-width="1"/>
<rect x="87.57" y="539.58" width="5.78" height="106.42" fill="#8484e2" stroke="#2323d2" stroke-width="1"/>
<rect x="93.35" y="532.48" width="5.78" height="113.52" fill="#8484e2" stroke="#2323d2" stroke-width="1"/>
<rect x="99.13" y="525.38" width="5.78" height="120.62" fill="#8484e2" stroke="#2323d2" stroke-width="1"/>
<rect x="104.91" y="475.72" width="5.78" height="170.28" fill="#8484e2" stroke="#2323d2" stroke-width="1"/>
<rect x="110.69" y="511.19" width="5.78" height="134.81" fill="#8484e2" stroke="#2323d2" stroke-width="1"/>
<rect x="116.47" y="468.62" width="5.78" height="177.38" fill="#8484e2" stroke="#2323d2" stroke-width="1"/>
<rect x="122.25" y="497" width="5.78" height="149" fill="#8484e2" stroke="#2323d2" stroke-width="1"/>
<rect x="128.03" y="589.24" width="5.78" height="56.76" fill="#8484e2" stroke="#2323d2" stroke-width="1"/>
<rect x="133.81" y="560.86" width="5.78" height="85.14" fill="#8484e2" stroke="#2323d2" stroke-width="1"/>
<rect x="139.59" y="603.43" width="5.78" height="42.57" fill="#8484e2" stroke="#2323d2" stroke-width="1"/>
<rect x="145.37" y="631.81" width="5.78" height="14.19" fill="#8484e2" stroke="#2323d2" stroke-width="1"/>
<rect x="201.93" y="638.9" width="5.16" height="7.1" fill="#e88686" stroke="#d43a3a" stroke-width="1"/>
<rect x="207.09" y="638.9" width="5.16" height="7.1" fill="#e88686" stroke="#d43a3a" stroke-width="1"/>
<rect x="212.26" y="638.9" width="5.16" height="7.1" fill="#e88686" stroke="#d43a3a" stroke-width="1"/>
<rect x="222.58" y="638.9" width="5.16" height="7.1" fill="#e88686" stroke="#d43a3a" stroke-width="1"/>
<rect x="227.74" y="624.72" width="5.16" height="21.28" fill="#e88686" stroke="#d43a3a" stroke-width="1"/>
<rect x="232.91" y="610.52" width="5.16" height="35.48" fill="#e88686" stroke="#d43a3a" stroke-width="1"/>
<rect x="238.07" y="511.19" width="5.16" height="134.81" fill="#e88686" stroke="#d43a3a" stroke-width="1"/>
<rect x="243.23" y="376.39" width="5.16" height="269.61" fill="#e88686" stroke="#d43a3a" stroke-width="1"/>
<rect x="248.39" y="440.25" width="5.16" height="205.75" fill="#e88686" stroke="#d43a3a" stroke-width="1"/>
<rect x="253.56" y="497" width="5.16" height="149" fill="#e88686" stroke="#d43a3a" stroke-width="1"/>
<rect x="258.72" y="489.91" width="5.16" height="156.09" fill="#e88686" stroke="#d43a3a" stroke-width="1"/>
<rect x="263.88" y="461.53" width="5.16" height="184.47" fill="#e88686" stroke="#d43a3a" stroke-width="1"/>
<rect x="269.04" y="546.67" width="5.16" height="99.33" fill="#e88686" stroke="#d43a3a" stroke-width="1"/>
<rect x="274.21" y="518.29" width="5.16" height="127.71" fill="#e88686" stroke="#d43a3a" stroke-width="1"/>
<rect x="279.37" y="617.62" width="5.16" height="28.38" fill="#e88686" stroke="#d43a3a" stroke-width="1"/>
<rect x="289.69" y="638.9" width="5.16" height="7.1" fill="#e88686" stroke="#d43a3a" stroke-width="1"/>
<rect x="294.86" y="638.9" width="5.16" height="7.1" fill="#e88686" stroke="#d43a3a" stroke-width="1"/>
<rect x="300.02" y="638.9" width="5.16" height="7.1" fill="#e88686" stroke="#d43a3a" stroke-width="1"/>
<rect x="342.63" y="638.9" width="5.33" height="7.1" fill="#86e886" stroke="#2ad02a" stroke-width="1"/>
<rect x="347.97" y="624.72" width="5.33" height="21.28" fill="#86e886" stroke="#2ad02a" stroke-width="1"/>
<rect x="353.3" y="567.96" width="5.33" height="78.04" fill="#86e886" stroke="#2ad02a" stroke-width="1"/>
<rect x="358.62" y="567.96" width="5.33" height="78.04" fill="#86e886" stroke="#2ad02a" stroke-width="1"/>
<rect x="363.96" y="596.34" width="5.33" height="49.66" fill="#86e886" stroke="#2ad02a" stroke-width="1"/>
<rect x="369.29" y="497" width="5.33" height="149" fill="#86e886" stroke="#2ad02a" stroke-width="1"/>
<rect x="374.62" y="447.34" width="5.33" height="198.66" fill="#86e886" stroke="#2ad02a" stroke-width="1"/>
<rect x="379.94" y="447.34" width="5.33" height="198.66" fill="#86e886" stroke="#2ad02a" stroke-width="1"/>
<rect x="385.28" y="482.81" width="5.33" height="163.19" fill="#86e886" stroke="#2ad02a" stroke-width="1"/>
<rect x="390.61" y="589.24" width="5.33" height="56.76" fill="#86e886" stroke="#2ad02a" stroke-width="1"/>
<rect x="395.94" y="589.24" width="5.33" height="56.76" fill="#86e886" stroke="#2ad02a" stroke-width="1"/>
<rect x="401.26" y="596.34" width="5.33" height="49.66" fill="#86e886" stroke="#2ad02a" stroke-width="1"/>
<rect x="406.6" y="589.24" width="5.33" height="56.76" fill="#86e886" stroke="#2ad02a" stroke-width="1"/>
<rect x="411.93" y="610.52" width="5.33" height="35.48" fill="#86e886" stroke="#2ad02a" stroke-width="1"/>
<rect x="417.25" y="631.81" width="5.33" height="14.19" fill="#86e886" stroke="#2ad02a" stroke-width="1"/>
<rect x="422.59" y="638.9" width="5.33" height="7.1" fill="#86e886" stroke="#2ad02a" stroke-width="1"/>
<rect x="427.92" y="617.62" width="5.33" height="28.38" fill="#86e886" stroke="#2ad02a" stroke-width="1"/>
<rect x="433.25" y="596.34" width="5.33" height="49.66" fill="#86e886" stroke="#2ad02a" stroke-width="1"/>
<rect x="438.58" y="596.34" width="5.33" height="49.66" fill="#86e886" stroke="#2ad02a" stroke-width="1"/>
<rect x="443.91" y="567.96" width="5.33" height="78.04" fill="#86e886" stroke="#2ad02a" stroke-width="1"/>
<rect x="449.24" y="617.62" width="5.33" height="28.38" fill="#86e886" stroke="#2ad02a" stroke-width="1"/>
<rect x="454.56" y="638.9" width="5.33" height="7.1" fill="#86e886" stroke="#2ad02a" stroke-width="1"/>
<line x1="41.6" y1="646" x2="174.4" y2="646" stroke="#2323d2" stroke-width="1.2" />
<line x1="191" y1="646" x2="320.2" y2="646" stroke="#d43a3a" stroke-width="1.2" />
<line x1="336.4" y1="646" x2="474" y2="646" stroke="#2ad02a" stroke-width="1.2" />
<line x1="41.6" y1="362.2" x2="174.4" y2="362.2" stroke="#444" stroke-width="1" />
<line x1="192" y1="362.2" x2="319.6" y2="362.2" stroke="#444" stroke-width="1" />
<line x1="337.4" y1="362.2" x2="474" y2="362.2" stroke="#444" stroke-width="1" />
<line x1="41.6" y1="361.7" x2="41.6" y2="646.5" stroke="#444" stroke-width="1" />
<line x1="183.4" y1="362.2" x2="183.4" y2="646" stroke="#444" stroke-width="1" />
<line x1="328.6" y1="362.2" x2="328.6" y2="646" stroke="#444" stroke-width="1" />
<line x1="470" y1="362.2" x2="470" y2="646" stroke="#444" stroke-width="1.3" />
<line x1="37.6" y1="646" x2="41.6" y2="646" stroke="#444" stroke-width="1" />
<text x="36.8" y="650.4" font-size="12.5" text-anchor="end" letter-spacing="-0.6" fill="#111" stroke="#111" stroke-width="0.28" >0</text>
<line x1="181" y1="646" x2="185.6" y2="646" stroke="#444" stroke-width="1" />
<line x1="326.2" y1="646" x2="330.8" y2="646" stroke="#444" stroke-width="1" />
<line x1="467.6" y1="646" x2="474" y2="646" stroke="#444" stroke-width="1" />
<line x1="37.6" y1="610.52" x2="41.6" y2="610.52" stroke="#444" stroke-width="1" />
<text x="36.8" y="614.92" font-size="12.5" text-anchor="end" letter-spacing="-0.6" fill="#111" stroke="#111" stroke-width="0.28" >5</text>
<line x1="181" y1="610.52" x2="185.6" y2="610.52" stroke="#444" stroke-width="1" />
<line x1="326.2" y1="610.52" x2="330.8" y2="610.52" stroke="#444" stroke-width="1" />
<line x1="467.6" y1="610.52" x2="474" y2="610.52" stroke="#444" stroke-width="1" />
<line x1="37.6" y1="575.05" x2="41.6" y2="575.05" stroke="#444" stroke-width="1" />
<text x="36.8" y="579.45" font-size="12.5" text-anchor="end" letter-spacing="-0.6" fill="#111" stroke="#111" stroke-width="0.28" >10</text>
<line x1="181" y1="575.05" x2="185.6" y2="575.05" stroke="#444" stroke-width="1" />
<line x1="326.2" y1="575.05" x2="330.8" y2="575.05" stroke="#444" stroke-width="1" />
<line x1="467.6" y1="575.05" x2="474" y2="575.05" stroke="#444" stroke-width="1" />
<line x1="37.6" y1="539.58" x2="41.6" y2="539.58" stroke="#444" stroke-width="1" />
<text x="36.8" y="543.98" font-size="12.5" text-anchor="end" letter-spacing="-0.6" fill="#111" stroke="#111" stroke-width="0.28" >15</text>
<line x1="181" y1="539.58" x2="185.6" y2="539.58" stroke="#444" stroke-width="1" />
<line x1="326.2" y1="539.58" x2="330.8" y2="539.58" stroke="#444" stroke-width="1" />
<line x1="467.6" y1="539.58" x2="474" y2="539.58" stroke="#444" stroke-width="1" />
<line x1="37.6" y1="504.1" x2="41.6" y2="504.1" stroke="#444" stroke-width="1" />
<text x="36.8" y="508.5" font-size="12.5" text-anchor="end" letter-spacing="-0.6" fill="#111" stroke="#111" stroke-width="0.28" >20</text>
<line x1="181" y1="504.1" x2="185.6" y2="504.1" stroke="#444" stroke-width="1" />
<line x1="326.2" y1="504.1" x2="330.8" y2="504.1" stroke="#444" stroke-width="1" />
<line x1="467.6" y1="504.1" x2="474" y2="504.1" stroke="#444" stroke-width="1" />
<line x1="37.6" y1="468.62" x2="41.6" y2="468.62" stroke="#444" stroke-width="1" />
<text x="36.8" y="473.02" font-size="12.5" text-anchor="end" letter-spacing="-0.6" fill="#111" stroke="#111" stroke-width="0.28" >25</text>
<line x1="181" y1="468.62" x2="185.6" y2="468.62" stroke="#444" stroke-width="1" />
<line x1="326.2" y1="468.62" x2="330.8" y2="468.62" stroke="#444" stroke-width="1" />
<line x1="467.6" y1="468.62" x2="474" y2="468.62" stroke="#444" stroke-width="1" />
<line x1="37.6" y1="433.15" x2="41.6" y2="433.15" stroke="#444" stroke-width="1" />
<text x="36.8" y="437.55" font-size="12.5" text-anchor="end" letter-spacing="-0.6" fill="#111" stroke="#111" stroke-width="0.28" >30</text>
<line x1="181" y1="433.15" x2="185.6" y2="433.15" stroke="#444" stroke-width="1" />
<line x1="326.2" y1="433.15" x2="330.8" y2="433.15" stroke="#444" stroke-width="1" />
<line x1="467.6" y1="433.15" x2="474" y2="433.15" stroke="#444" stroke-width="1" />
<line x1="37.6" y1="397.68" x2="41.6" y2="397.68" stroke="#444" stroke-width="1" />
<text x="36.8" y="402.07" font-size="12.5" text-anchor="end" letter-spacing="-0.6" fill="#111" stroke="#111" stroke-width="0.28" >35</text>
<line x1="181" y1="397.68" x2="185.6" y2="397.68" stroke="#444" stroke-width="1" />
<line x1="326.2" y1="397.68" x2="330.8" y2="397.68" stroke="#444" stroke-width="1" />
<line x1="467.6" y1="397.68" x2="474" y2="397.68" stroke="#444" stroke-width="1" />
<line x1="37.6" y1="362.2" x2="41.6" y2="362.2" stroke="#444" stroke-width="1" />
<text x="36.8" y="366.6" font-size="12.5" text-anchor="end" letter-spacing="-0.6" fill="#111" stroke="#111" stroke-width="0.28" >40</text>
<line x1="181" y1="362.2" x2="185.6" y2="362.2" stroke="#444" stroke-width="1" />
<line x1="326.2" y1="362.2" x2="330.8" y2="362.2" stroke="#444" stroke-width="1" />
<line x1="467.6" y1="362.2" x2="474" y2="362.2" stroke="#444" stroke-width="1" />
<line x1="50" y1="358.2" x2="50" y2="362.2" stroke="#444" stroke-width="1" />
<line x1="50" y1="646" x2="50" y2="650" stroke="#444" stroke-width="1" />
<line x1="64.45" y1="359.8" x2="64.45" y2="362.2" stroke="#444" stroke-width="1" />
<line x1="64.45" y1="646" x2="64.45" y2="648.4" stroke="#444" stroke-width="1" />
<line x1="78.9" y1="358.2" x2="78.9" y2="362.2" stroke="#444" stroke-width="1" />
<line x1="78.9" y1="646" x2="78.9" y2="650" stroke="#444" stroke-width="1" />
<line x1="93.35" y1="359.8" x2="93.35" y2="362.2" stroke="#444" stroke-width="1" />
<line x1="93.35" y1="646" x2="93.35" y2="648.4" stroke="#444" stroke-width="1" />
<line x1="107.8" y1="358.2" x2="107.8" y2="362.2" stroke="#444" stroke-width="1" />
<line x1="107.8" y1="646" x2="107.8" y2="650" stroke="#444" stroke-width="1" />
<line x1="122.25" y1="359.8" x2="122.25" y2="362.2" stroke="#444" stroke-width="1" />
<line x1="122.25" y1="646" x2="122.25" y2="648.4" stroke="#444" stroke-width="1" />
<line x1="136.7" y1="358.2" x2="136.7" y2="362.2" stroke="#444" stroke-width="1" />
<line x1="136.7" y1="646" x2="136.7" y2="650" stroke="#444" stroke-width="1" />
<line x1="151.15" y1="359.8" x2="151.15" y2="362.2" stroke="#444" stroke-width="1" />
<line x1="151.15" y1="646" x2="151.15" y2="648.4" stroke="#444" stroke-width="1" />
<line x1="165.6" y1="358.2" x2="165.6" y2="362.2" stroke="#444" stroke-width="1" />
<line x1="165.6" y1="646" x2="165.6" y2="650" stroke="#444" stroke-width="1" />
<text x="50" y="663.2" font-size="12.5" text-anchor="middle" letter-spacing="-0.6" fill="#111" stroke="#111" stroke-width="0.28" >-20</text>
<text x="78.9" y="663.2" font-size="12.5" text-anchor="middle" letter-spacing="-0.6" fill="#111" stroke="#111" stroke-width="0.28" >-10</text>
<text x="107.8" y="663.2" font-size="12.5" text-anchor="middle" letter-spacing="-0.6" fill="#111" stroke="#111" stroke-width="0.28" >0</text>
<text x="136.7" y="663.2" font-size="12.5" text-anchor="middle" letter-spacing="-0.6" fill="#111" stroke="#111" stroke-width="0.28" >10</text>
<text x="165.6" y="663.2" font-size="12.5" text-anchor="middle" letter-spacing="-0.6" fill="#111" stroke="#111" stroke-width="0.28" >20</text>
<line x1="199.35" y1="359.8" x2="199.35" y2="362.2" stroke="#444" stroke-width="1" />
<line x1="199.35" y1="646" x2="199.35" y2="648.4" stroke="#444" stroke-width="1" />
<line x1="209.67" y1="359.8" x2="209.67" y2="362.2" stroke="#444" stroke-width="1" />
<line x1="209.67" y1="646" x2="209.67" y2="648.4" stroke="#444" stroke-width="1" />
<line x1="220" y1="358.2" x2="220" y2="362.2" stroke="#444" stroke-width="1" />
<line x1="220" y1="646" x2="220" y2="650" stroke="#444" stroke-width="1" />
<line x1="230.32" y1="359.8" x2="230.32" y2="362.2" stroke="#444" stroke-width="1" />
<line x1="230.32" y1="646" x2="230.32" y2="648.4" stroke="#444" stroke-width="1" />
<line x1="240.65" y1="359.8" x2="240.65" y2="362.2" stroke="#444" stroke-width="1" />
<line x1="240.65" y1="646" x2="240.65" y2="648.4" stroke="#444" stroke-width="1" />
<line x1="250.97" y1="359.8" x2="250.97" y2="362.2" stroke="#444" stroke-width="1" />
<line x1="250.97" y1="646" x2="250.97" y2="648.4" stroke="#444" stroke-width="1" />
<line x1="261.3" y1="358.2" x2="261.3" y2="362.2" stroke="#444" stroke-width="1" />
<line x1="261.3" y1="646" x2="261.3" y2="650" stroke="#444" stroke-width="1" />
<line x1="271.62" y1="359.8" x2="271.62" y2="362.2" stroke="#444" stroke-width="1" />
<line x1="271.62" y1="646" x2="271.62" y2="648.4" stroke="#444" stroke-width="1" />
<line x1="281.95" y1="359.8" x2="281.95" y2="362.2" stroke="#444" stroke-width="1" />
<line x1="281.95" y1="646" x2="281.95" y2="648.4" stroke="#444" stroke-width="1" />
<line x1="292.27" y1="359.8" x2="292.27" y2="362.2" stroke="#444" stroke-width="1" />
<line x1="292.27" y1="646" x2="292.27" y2="648.4" stroke="#444" stroke-width="1" />
<line x1="302.6" y1="358.2" x2="302.6" y2="362.2" stroke="#444" stroke-width="1" />
<line x1="302.6" y1="646" x2="302.6" y2="650" stroke="#444" stroke-width="1" />
<line x1="312.93" y1="359.8" x2="312.93" y2="362.2" stroke="#444" stroke-width="1" />
<line x1="312.93" y1="646" x2="312.93" y2="648.4" stroke="#444" stroke-width="1" />
<text x="220" y="663.2" font-size="12.5" text-anchor="middle" letter-spacing="-0.6" fill="#111" stroke="#111" stroke-width="0.28" >-0.6</text>
<text x="261.3" y="663.2" font-size="12.5" text-anchor="middle" letter-spacing="-0.6" fill="#111" stroke="#111" stroke-width="0.28" >-0.4</text>
<text x="302.6" y="663.2" font-size="12.5" text-anchor="middle" letter-spacing="-0.6" fill="#111" stroke="#111" stroke-width="0.28" >-0.2</text>
<line x1="345.3" y1="358.2" x2="345.3" y2="362.2" stroke="#444" stroke-width="1" />
<line x1="345.3" y1="646" x2="345.3" y2="650" stroke="#444" stroke-width="1" />
<line x1="355.96" y1="359.8" x2="355.96" y2="362.2" stroke="#444" stroke-width="1" />
<line x1="355.96" y1="646" x2="355.96" y2="648.4" stroke="#444" stroke-width="1" />
<line x1="366.62" y1="359.8" x2="366.62" y2="362.2" stroke="#444" stroke-width="1" />
<line x1="366.62" y1="646" x2="366.62" y2="648.4" stroke="#444" stroke-width="1" />
<line x1="377.28" y1="359.8" x2="377.28" y2="362.2" stroke="#444" stroke-width="1" />
<line x1="377.28" y1="646" x2="377.28" y2="648.4" stroke="#444" stroke-width="1" />
<line x1="387.94" y1="359.8" x2="387.94" y2="362.2" stroke="#444" stroke-width="1" />
<line x1="387.94" y1="646" x2="387.94" y2="648.4" stroke="#444" stroke-width="1" />
<line x1="398.6" y1="358.2" x2="398.6" y2="362.2" stroke="#444" stroke-width="1" />
<line x1="398.6" y1="646" x2="398.6" y2="650" stroke="#444" stroke-width="1" />
<line x1="409.26" y1="359.8" x2="409.26" y2="362.2" stroke="#444" stroke-width="1" />
<line x1="409.26" y1="646" x2="409.26" y2="648.4" stroke="#444" stroke-width="1" />
<line x1="419.92" y1="359.8" x2="419.92" y2="362.2" stroke="#444" stroke-width="1" />
<line x1="419.92" y1="646" x2="419.92" y2="648.4" stroke="#444" stroke-width="1" />
<line x1="430.58" y1="359.8" x2="430.58" y2="362.2" stroke="#444" stroke-width="1" />
<line x1="430.58" y1="646" x2="430.58" y2="648.4" stroke="#444" stroke-width="1" />
<line x1="441.24" y1="359.8" x2="441.24" y2="362.2" stroke="#444" stroke-width="1" />
<line x1="441.24" y1="646" x2="441.24" y2="648.4" stroke="#444" stroke-width="1" />
<line x1="451.9" y1="358.2" x2="451.9" y2="362.2" stroke="#444" stroke-width="1" />
<line x1="451.9" y1="646" x2="451.9" y2="650" stroke="#444" stroke-width="1" />
<line x1="462.56" y1="359.8" x2="462.56" y2="362.2" stroke="#444" stroke-width="1" />
<line x1="462.56" y1="646" x2="462.56" y2="648.4" stroke="#444" stroke-width="1" />
<text x="345.3" y="663.2" font-size="12.5" text-anchor="middle" letter-spacing="-0.6" fill="#111" stroke="#111" stroke-width="0.28" >0</text>
<text x="398.6" y="663.2" font-size="12.5" text-anchor="middle" letter-spacing="-0.6" fill="#111" stroke="#111" stroke-width="0.28" >5</text>
<text x="451.9" y="663.2" font-size="12.5" text-anchor="middle" letter-spacing="-0.6" fill="#111" stroke="#111" stroke-width="0.28" >10</text>
<text x="12" y="350" font-size="12.5" text-anchor="middle" letter-spacing="-0.4" fill="#111" stroke="#111" stroke-width="0.28" dominant-baseline="hanging">(b)</text>
<text transform="translate(15.3 503.5) rotate(-90)" font-size="13" text-anchor="middle" letter-spacing="-0.6" fill="#111" stroke="#111" stroke-width="0.28">Number of points (#)</text>
<text x="108.5" y="679.6" font-size="13" text-anchor="middle" letter-spacing="-0.6" fill="#111" stroke="#111" stroke-width="0.28">ΔO<tspan font-size="8.5" dy="2.6">3</tspan><tspan dy="-2.6"> (ppbv)</tspan></text>
<text x="256.6" y="679.6" font-size="13" text-anchor="middle" letter-spacing="-0.6" fill="#111" stroke="#111" stroke-width="0.28" >ΔT (K)</text>
<text x="403.5" y="679.6" font-size="13" text-anchor="middle" letter-spacing="-0.6" fill="#111" stroke="#111" stroke-width="0.28" >ΔRH over ice (%)</text>
</svg>
</body></html>
